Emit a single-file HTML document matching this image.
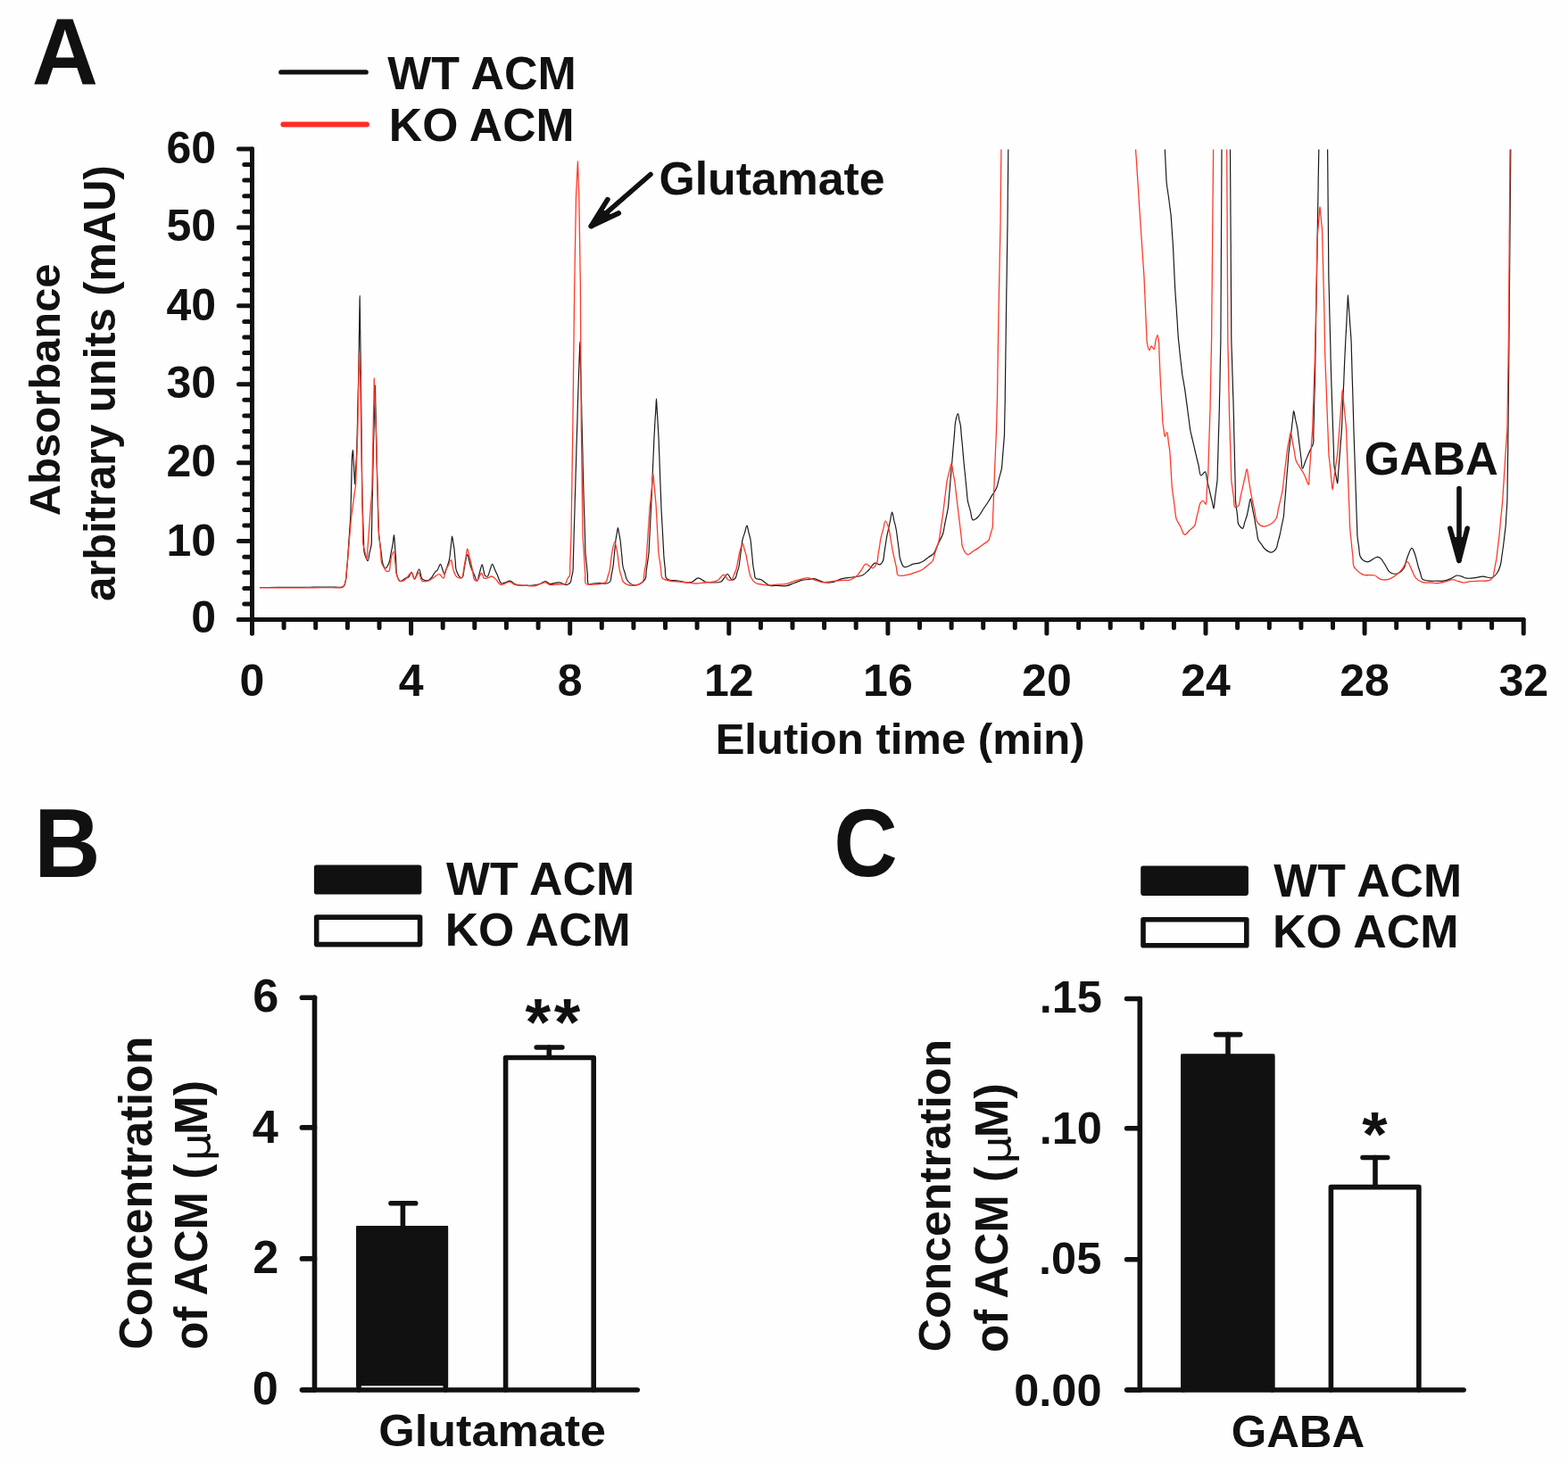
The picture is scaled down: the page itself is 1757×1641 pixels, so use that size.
<!DOCTYPE html>
<html><head><meta charset="utf-8"><title>Figure</title>
<style>
html,body{margin:0;padding:0;background:#fefefe;}
svg{display:block;}
text{font-family:'Liberation Sans', Arial, sans-serif;font-weight:bold;fill:#111;}
</style></head>
<body>
<svg width="1757" height="1641" viewBox="0 0 1757 1641">
<rect width="1757" height="1641" fill="#fefefe"/>
<line x1="314.9" y1="80.9" x2="410.1" y2="80.9" stroke="#111" stroke-width="5.4" stroke-linecap="round"/>
<line x1="317.4" y1="139.4" x2="410.9" y2="139.4" stroke="#ff2d23" stroke-width="6.0" stroke-linecap="round"/>
<clipPath id="cpA"><rect x="283" y="167.5" width="1430" height="540"/></clipPath>
<g clip-path="url(#cpA)" fill="none" stroke-linejoin="round">
<path d="M291.0,658.5 C291.0,658.5 297.5,658.5 300.8,658.5 C304.1,658.4 307.3,658.4 310.6,658.4 C313.9,658.4 317.1,658.4 320.4,658.4 C323.7,658.4 326.9,658.4 330.2,658.3 C333.5,658.3 336.7,658.3 340.0,658.3 C343.5,658.3 347.2,658.2 350.8,658.2 C354.3,658.2 357.9,658.2 361.5,658.1 C365.1,658.1 368.7,658.1 372.2,658.1 C375.8,658.1 380.7,658.6 383.0,658.0 C384.2,657.7 384.8,657.4 385.5,656.5 C386.5,655.2 387.0,652.4 387.5,650.0 C388.1,647.1 388.1,643.6 388.4,640.4 C388.7,637.2 389.0,634.1 389.3,630.8 C389.6,627.4 389.8,623.9 390.0,620.4 C390.2,617.0 390.5,613.5 390.7,610.1 C390.9,606.6 391.2,603.2 391.4,599.7 C391.6,596.3 391.9,592.8 392.1,589.4 C392.3,585.9 392.6,582.5 392.8,579.0 C393.0,575.4 393.0,571.6 393.1,568.0 C393.2,564.3 393.3,560.6 393.4,556.9 C393.5,553.2 393.6,549.5 393.6,545.9 C393.7,542.2 393.8,538.5 393.9,534.8 C394.0,531.1 394.1,527.4 394.2,523.8 C394.3,520.1 394.3,516.1 394.5,512.7 C394.7,509.7 395.2,504.4 395.5,504.4 C395.8,504.4 395.9,510.8 396.0,514.0 C396.2,517.2 396.4,520.4 396.6,523.6 C396.7,526.8 396.9,530.0 397.1,533.2 C397.3,536.4 397.4,542.8 397.6,542.8 C397.8,542.8 398.0,536.8 398.1,533.7 C398.3,530.7 398.5,527.7 398.6,524.6 C398.8,521.6 399.0,518.6 399.2,515.6 C399.4,512.6 399.6,509.7 399.7,506.5 C399.9,502.8 399.9,498.6 400.0,494.7 C400.1,490.7 400.2,486.8 400.3,482.8 C400.4,478.9 400.5,474.9 400.6,471.0 C400.7,467.0 400.7,463.1 400.8,459.1 C400.9,455.2 401.0,451.2 401.1,447.3 C401.2,443.3 401.3,439.4 401.4,435.4 C401.5,431.5 401.6,427.5 401.7,423.6 C401.8,419.7 401.8,415.9 401.9,412.1 C402.0,408.2 402.0,404.4 402.1,400.6 C402.1,396.7 402.2,392.9 402.3,389.0 C402.3,385.2 402.4,381.3 402.4,377.5 C402.5,373.7 402.6,369.8 402.6,366.0 C402.7,362.1 402.8,358.3 402.8,354.4 C402.9,350.6 402.9,346.8 403.0,342.9 C403.1,339.1 403.1,331.4 403.2,331.4 C403.3,331.4 403.3,339.1 403.3,342.9 C403.4,346.8 403.5,350.6 403.5,354.4 C403.6,358.3 403.6,362.1 403.6,366.0 C403.7,369.8 403.7,373.7 403.8,377.5 C403.8,381.3 403.9,385.2 403.9,389.0 C404.0,392.9 404.1,396.7 404.1,400.6 C404.2,404.4 404.2,408.2 404.2,412.1 C404.3,415.9 404.4,419.8 404.4,423.6 C404.4,427.4 404.5,431.1 404.5,434.8 C404.6,438.6 404.6,442.3 404.6,446.1 C404.7,449.8 404.7,453.5 404.8,457.3 C404.8,461.0 404.9,464.8 404.9,468.5 C404.9,472.2 405.0,476.0 405.0,479.7 C405.1,483.5 405.1,487.2 405.1,490.9 C405.2,494.7 405.2,498.4 405.3,502.2 C405.3,505.9 405.4,509.7 405.4,513.4 C405.4,517.1 405.5,520.9 405.5,524.6 C405.6,528.4 405.6,532.1 405.6,535.8 C405.7,539.6 405.7,543.3 405.8,547.1 C405.8,550.8 405.8,554.7 405.9,558.3 C406.0,561.7 406.1,565.0 406.2,568.3 C406.4,571.7 406.5,575.0 406.6,578.3 C406.7,581.7 406.8,585.0 406.9,588.3 C407.1,591.7 407.2,595.0 407.3,598.4 C407.4,601.7 407.5,605.0 407.6,608.4 C407.8,611.7 407.3,615.1 408.0,618.4 C408.7,621.9 411.1,628.8 412.1,628.7 C413.1,628.6 413.5,622.5 414.1,619.4 C414.8,616.3 415.8,613.4 416.2,610.1 C416.6,606.5 416.4,602.4 416.4,598.6 C416.5,594.8 416.6,590.9 416.7,587.1 C416.7,583.2 416.8,579.4 416.9,575.6 C417.0,571.7 417.1,567.9 417.1,564.1 C417.2,560.2 417.3,556.4 417.4,552.5 C417.4,548.7 417.5,544.9 417.6,541.0 C417.7,537.2 417.8,533.4 417.8,529.5 C417.9,525.7 418.0,521.8 418.1,518.0 C418.1,514.2 418.2,510.3 418.3,506.5 C418.4,502.9 418.5,499.4 418.6,495.8 C418.7,492.3 418.8,488.7 418.9,485.2 C419.0,481.6 419.1,478.1 419.2,474.5 C419.3,471.0 419.4,467.4 419.5,463.9 C419.6,460.3 419.7,456.8 419.8,453.2 C419.9,449.7 420.0,446.1 420.1,442.6 C420.2,439.0 420.3,431.9 420.4,431.9 C420.5,431.9 420.6,439.8 420.7,443.8 C420.7,447.8 420.8,451.8 420.9,455.7 C421.0,459.7 421.1,463.7 421.2,467.6 C421.3,471.6 421.4,475.6 421.4,479.6 C421.5,483.5 421.6,487.5 421.7,491.5 C421.8,495.4 421.9,499.4 422.0,503.4 C422.1,507.3 422.1,511.3 422.2,515.3 C422.3,519.3 422.4,523.4 422.5,527.2 C422.6,530.8 422.7,534.1 422.8,537.6 C422.9,541.0 423.0,544.5 423.1,547.9 C423.2,551.4 423.3,554.8 423.4,558.3 C423.5,561.7 423.5,565.2 423.6,568.6 C423.7,572.1 423.8,575.5 423.9,579.0 C424.0,582.4 424.1,585.9 424.2,589.3 C424.3,592.8 424.2,596.3 424.5,599.7 C424.8,603.2 425.4,606.6 425.9,610.1 C426.4,613.5 426.8,617.0 427.3,620.4 C427.8,623.9 427.8,627.8 428.7,630.8 C429.4,633.2 430.6,636.9 431.8,637.0 C433.0,637.1 434.9,633.2 435.9,630.8 C437.1,627.9 437.3,623.9 438.0,620.5 C438.7,617.0 439.5,613.6 440.1,610.1 C440.7,606.6 441.1,599.7 441.5,599.7 C441.9,599.7 442.1,606.6 442.4,610.1 C442.6,613.6 442.9,616.9 443.2,620.5 C443.5,624.3 443.7,628.4 443.9,632.4 C444.1,636.3 443.7,640.8 444.6,644.2 C445.4,647.1 446.8,651.1 448.5,651.6 C450.1,652.0 452.4,649.1 454.2,648.2 C455.6,647.5 457.1,647.5 458.2,646.5 C459.5,645.4 460.1,641.4 461.1,641.4 C462.2,641.4 463.2,648.8 464.5,648.8 C466.0,648.8 468.2,637.9 469.6,638.0 C471.0,638.1 471.3,646.9 473.0,648.8 C474.0,649.9 475.2,650.2 476.4,650.5 C477.5,650.8 478.7,650.9 479.8,650.5 C481.2,650.0 482.6,648.5 483.8,647.1 C485.3,645.4 486.5,642.2 487.8,640.8 C488.6,640.0 489.4,640.0 490.1,639.1 C491.3,637.7 492.5,632.3 493.5,632.3 C494.4,632.3 495.0,636.1 495.8,638.0 C496.5,639.9 497.3,643.7 498.0,643.7 C498.8,643.7 499.5,639.8 500.3,637.4 C501.4,634.2 503.0,629.5 503.7,626.0 C504.3,623.0 504.3,620.4 504.7,617.7 C505.0,614.9 505.3,612.1 505.6,609.3 C506.0,606.6 506.2,601.0 506.6,601.0 C506.9,601.0 507.4,605.5 507.8,607.8 C508.1,610.1 508.6,612.2 508.9,614.6 C509.2,617.1 509.4,619.9 509.6,622.6 C509.9,625.2 510.1,627.9 510.4,630.5 C510.6,633.2 510.3,635.8 511.1,638.5 C512.1,641.5 514.7,647.1 516.3,647.6 C517.1,647.8 517.9,647.3 518.5,646.5 C519.5,645.1 519.5,641.2 520.0,638.5 C520.4,635.9 520.8,633.3 521.4,630.6 C522.0,627.7 522.9,621.5 523.7,621.5 C524.4,621.5 525.2,626.8 526.0,629.5 C526.7,632.1 527.3,634.9 528.2,637.4 C529.1,639.8 530.3,642.0 531.4,644.2 C532.4,646.5 533.5,651.2 534.5,651.1 C535.6,651.0 536.4,645.0 537.4,642.0 C538.3,639.0 539.4,632.9 540.2,632.9 C540.9,632.9 541.3,637.1 541.9,639.1 C542.5,641.2 542.5,644.4 543.6,645.4 C544.3,646.1 545.6,646.4 546.4,646.0 C547.7,645.3 548.1,641.4 549.0,639.1 C549.9,636.9 550.7,632.3 551.6,632.3 C552.5,632.3 553.5,636.3 554.4,638.2 C555.3,640.2 556.1,642.0 557.2,644.2 C558.5,647.0 559.8,652.9 561.8,653.9 C563.1,654.5 564.8,653.2 566.4,652.8 C568.1,652.3 569.9,650.9 571.5,651.1 C573.3,651.3 574.7,653.7 576.6,654.5 C578.6,655.4 581.1,655.9 583.4,656.2 C585.7,656.5 588.0,656.2 590.2,656.2 C592.5,656.2 594.7,656.5 597.1,656.2 C599.7,655.9 602.6,655.3 605.0,654.5 C607.3,653.7 609.3,651.5 611.3,651.6 C613.1,651.7 614.3,654.1 616.4,654.5 C619.2,655.0 623.5,652.5 626.7,652.8 C629.6,653.0 632.5,655.8 634.7,655.6 C636.5,655.4 638.2,654.2 639.2,652.8 C640.3,651.2 640.1,648.5 640.6,646.4 C641.1,644.3 641.7,642.5 642.0,640.0 C642.4,636.7 642.2,632.3 642.3,628.4 C642.4,624.5 642.6,620.7 642.7,616.8 C642.8,612.9 642.9,609.1 643.0,605.2 C643.1,601.3 643.2,597.5 643.3,593.6 C643.4,589.7 643.6,585.9 643.7,582.0 C643.8,578.1 643.9,574.3 644.0,570.4 C644.1,566.5 644.2,562.7 644.3,558.8 C644.4,554.9 644.6,551.1 644.7,547.2 C644.8,543.3 644.9,539.5 645.0,535.6 C645.1,531.6 645.2,527.6 645.4,523.6 C645.5,519.7 645.6,515.7 645.7,511.7 C645.8,507.7 645.9,503.7 646.0,499.8 C646.2,495.8 646.3,491.8 646.4,487.8 C646.5,483.8 646.6,479.8 646.8,475.9 C646.9,471.9 647.0,467.9 647.1,463.9 C647.2,459.9 647.3,455.9 647.4,451.9 C647.6,448.0 647.7,443.9 647.8,440.0 C647.9,436.2 648.1,432.4 648.2,428.7 C648.3,424.9 648.5,421.1 648.6,417.3 C648.7,413.5 648.9,409.8 649.0,406.0 C649.1,402.2 649.3,398.4 649.4,394.6 C649.5,390.9 649.7,383.3 649.8,383.3 C649.9,383.3 650.0,390.9 650.1,394.6 C650.2,398.4 650.3,402.2 650.4,406.0 C650.5,409.8 650.6,413.5 650.7,417.3 C650.8,421.1 650.9,424.9 651.0,428.7 C651.1,432.4 651.2,436.2 651.3,440.0 C651.4,443.9 651.5,448.0 651.6,451.9 C651.7,455.9 651.8,459.9 651.8,463.9 C651.9,467.9 652.0,471.9 652.1,475.9 C652.2,479.8 652.3,483.8 652.4,487.8 C652.5,491.8 652.6,495.8 652.7,499.8 C652.8,503.7 652.9,507.7 653.0,511.7 C653.0,515.7 653.1,519.7 653.2,523.6 C653.3,527.6 653.4,531.7 653.5,535.6 C653.6,539.2 653.7,542.6 653.8,546.1 C653.9,549.7 654.0,553.2 654.1,556.7 C654.2,560.2 654.3,563.7 654.4,567.2 C654.5,570.8 654.6,574.3 654.8,577.8 C654.9,581.3 655.0,584.8 655.1,588.4 C655.2,591.9 655.3,595.4 655.4,598.9 C655.5,602.4 655.6,605.9 655.7,609.5 C655.8,613.0 655.8,616.4 656.0,620.0 C656.2,623.8 656.8,627.8 657.2,631.7 C657.6,635.6 657.9,639.4 658.3,643.3 C658.7,647.2 657.8,653.7 659.5,655.0 C660.7,655.9 663.0,654.2 665.0,654.0 C667.2,653.8 669.6,653.7 672.0,653.7 C674.6,653.7 677.9,654.5 680.0,654.0 C681.5,653.6 682.7,653.2 683.6,652.0 C684.9,650.3 684.7,646.3 685.3,643.5 C685.9,640.7 686.6,638.0 687.0,635.0 C687.5,631.8 687.7,628.3 688.0,625.0 C688.3,621.7 688.7,618.3 689.0,615.0 C689.3,611.7 689.6,608.0 690.0,605.0 C690.3,602.5 690.8,600.5 691.2,598.2 C691.6,596.0 692.0,591.5 692.4,591.5 C692.8,591.5 693.3,596.0 693.7,598.2 C694.1,600.5 694.6,602.5 695.0,605.0 C695.4,608.0 695.7,611.7 696.0,615.0 C696.3,618.3 696.7,621.7 697.0,625.0 C697.3,628.3 697.4,631.9 698.0,635.0 C698.5,637.7 699.5,640.0 700.3,642.5 C701.1,645.0 701.1,647.8 702.6,650.0 C704.2,652.4 707.5,655.2 710.0,655.9 C712.0,656.4 714.0,655.9 716.0,655.0 C718.4,653.9 721.6,651.6 723.0,649.0 C724.4,646.4 723.9,642.6 724.3,639.3 C724.8,636.1 725.2,632.9 725.7,629.7 C726.1,626.4 726.7,623.3 727.0,620.0 C727.3,616.7 727.3,613.3 727.5,610.0 C727.7,606.7 727.8,603.3 728.0,600.0 C728.2,596.7 728.3,593.3 728.5,590.0 C728.7,586.7 728.8,583.3 729.0,580.0 C729.2,576.7 729.3,573.3 729.5,570.0 C729.7,566.7 729.8,563.5 730.0,560.0 C730.2,556.3 730.3,552.2 730.5,548.3 C730.7,544.4 730.8,540.6 731.0,536.7 C731.2,532.8 731.3,528.9 731.5,525.0 C731.7,521.1 731.8,517.2 732.0,513.3 C732.2,509.4 732.3,505.6 732.5,501.7 C732.7,497.8 732.8,493.8 733.0,490.0 C733.2,486.3 733.4,482.8 733.6,479.2 C733.8,475.6 734.0,472.0 734.2,468.4 C734.5,464.8 734.7,461.2 734.9,457.6 C735.1,454.0 735.3,446.8 735.5,446.8 C735.7,446.8 735.9,454.0 736.1,457.6 C736.3,461.2 736.5,464.8 736.8,468.4 C737.0,472.0 737.2,475.6 737.4,479.2 C737.6,482.8 737.8,486.3 738.0,490.0 C738.2,493.8 738.3,497.6 738.4,501.4 C738.6,505.2 738.7,509.0 738.9,512.9 C739.0,516.7 739.1,520.5 739.3,524.3 C739.4,528.1 739.6,531.9 739.7,535.7 C739.9,539.5 740.0,543.3 740.1,547.1 C740.3,551.0 740.4,554.8 740.6,558.6 C740.7,562.4 740.8,566.2 741.0,570.0 C741.2,573.7 741.4,577.3 741.6,581.0 C741.8,584.7 742.0,588.3 742.2,592.0 C742.4,595.7 742.6,599.3 742.8,603.0 C743.0,606.7 743.2,610.3 743.4,614.0 C743.6,617.7 743.7,621.3 744.0,625.0 C744.3,628.8 744.8,632.7 745.2,636.5 C745.7,640.3 745.1,645.9 746.5,648.0 C747.3,649.3 748.5,649.5 750.0,650.0 C752.4,650.8 756.7,650.5 760.0,651.0 C763.3,651.5 767.1,653.0 770.0,653.0 C772.3,653.0 774.1,652.8 776.0,652.0 C778.2,651.1 780.1,647.9 782.3,647.8 C784.7,647.7 787.2,651.1 790.0,652.0 C793.0,652.9 796.9,653.0 800.0,653.0 C802.8,653.0 805.6,653.3 808.0,652.0 C810.8,650.5 813.1,643.4 815.2,643.5 C817.0,643.6 818.3,649.6 820.0,650.0 C821.3,650.3 823.0,649.2 824.0,648.0 C825.2,646.6 825.3,643.7 826.0,641.5 C826.7,639.3 827.5,637.4 828.0,635.0 C828.6,632.0 828.9,628.3 829.3,625.0 C829.8,621.7 830.2,618.3 830.7,615.0 C831.1,611.7 831.3,608.1 832.0,605.0 C832.6,602.2 833.7,599.7 834.5,597.1 C835.3,594.5 836.2,589.2 837.0,589.2 C837.7,589.2 838.3,594.5 839.0,597.1 C839.7,599.7 840.5,602.2 841.0,605.0 C841.5,608.1 841.7,611.7 842.0,615.0 C842.3,618.3 842.7,621.7 843.0,625.0 C843.3,628.3 843.6,632.0 844.0,635.0 C844.4,637.4 844.8,639.4 845.2,641.5 C845.7,643.7 845.2,646.7 846.5,648.1 C847.8,649.5 850.6,648.8 852.8,649.8 C855.7,651.1 858.7,655.0 861.9,656.1 C864.9,657.1 868.3,656.3 871.5,656.4 C874.8,656.5 878.1,657.2 881.2,656.7 C884.2,656.2 886.9,654.6 889.8,653.5 C892.6,652.5 895.6,651.1 898.3,650.4 C900.7,649.8 902.9,649.8 905.1,649.5 C907.4,649.3 909.5,648.4 912.0,648.7 C915.3,649.1 919.7,652.1 923.3,652.7 C926.4,653.2 929.8,653.2 932.4,652.7 C934.6,652.3 936.2,651.4 938.1,650.7 C940.0,650.0 941.5,649.3 943.8,648.7 C946.9,647.9 951.4,647.7 955.2,647.0 C959.0,646.3 963.4,646.2 966.6,644.7 C969.4,643.4 971.2,641.2 973.4,639.0 C975.8,636.7 977.9,631.8 980.3,631.1 C982.1,630.6 984.5,633.3 986.0,632.8 C987.4,632.4 988.6,630.6 989.4,628.8 C990.5,626.4 990.4,622.5 990.9,619.3 C991.4,616.1 991.9,613.0 992.4,609.8 C992.9,606.6 993.3,603.4 993.9,600.3 C994.5,597.3 995.2,594.5 995.8,591.6 C996.4,588.7 997.1,585.7 997.7,582.8 C998.3,579.9 998.9,574.1 999.6,574.1 C1000.3,574.1 1001.1,580.6 1001.9,583.8 C1002.7,587.0 1003.6,590.1 1004.2,593.5 C1004.9,597.0 1005.2,600.8 1005.7,604.5 C1006.2,608.2 1006.7,611.8 1007.2,615.5 C1007.7,619.2 1007.6,623.1 1008.7,626.5 C1009.7,629.8 1010.9,634.6 1013.3,635.6 C1015.8,636.6 1020.5,633.0 1023.5,632.2 C1025.9,631.6 1028.1,631.7 1030.0,631.1 C1031.7,630.6 1033.0,629.9 1034.6,629.0 C1036.5,627.9 1038.5,626.1 1040.4,624.6 C1042.4,623.2 1044.8,622.2 1046.3,620.3 C1047.9,618.3 1048.6,615.4 1049.7,613.0 C1050.9,610.5 1052.0,608.1 1053.2,605.6 C1054.3,603.2 1055.7,601.0 1056.6,598.3 C1057.6,595.3 1057.9,591.8 1058.5,588.5 C1059.2,585.3 1059.8,582.0 1060.5,578.8 C1061.1,575.5 1061.9,572.3 1062.4,569.0 C1062.9,565.6 1063.0,562.2 1063.3,558.8 C1063.6,555.3 1063.9,551.9 1064.2,548.5 C1064.5,545.1 1064.7,541.7 1065.0,538.3 C1065.3,534.9 1065.6,531.5 1065.9,528.0 C1066.2,524.6 1066.5,521.3 1066.8,517.8 C1067.1,514.2 1067.4,510.5 1067.7,506.8 C1068.0,503.2 1068.3,499.5 1068.7,495.8 C1069.0,492.2 1069.3,488.5 1069.6,484.9 C1069.9,481.2 1069.9,477.5 1070.5,473.9 C1071.1,470.4 1072.6,463.7 1073.4,463.7 C1074.0,463.7 1074.4,468.1 1074.8,470.2 C1075.3,472.4 1075.9,474.4 1076.3,476.8 C1076.8,479.8 1076.9,483.6 1077.2,487.1 C1077.5,490.5 1077.8,493.9 1078.2,497.3 C1078.5,500.7 1078.8,504.1 1079.1,507.5 C1079.4,511.0 1079.7,514.3 1080.0,517.8 C1080.3,521.4 1080.7,525.1 1081.1,528.8 C1081.5,532.4 1081.8,536.1 1082.2,539.8 C1082.6,543.4 1082.9,547.1 1083.3,550.7 C1083.7,554.4 1083.7,558.1 1084.4,561.7 C1085.1,565.3 1086.3,568.8 1087.3,572.3 C1088.3,575.8 1088.4,582.2 1090.2,582.9 C1091.6,583.5 1094.3,581.0 1096.1,579.3 C1098.3,577.2 1100.0,573.4 1101.9,570.5 C1103.9,567.6 1106.0,564.5 1107.8,561.7 C1109.4,559.2 1110.7,556.8 1112.2,554.4 C1113.7,552.0 1115.4,549.9 1116.6,547.1 C1118.0,543.9 1118.5,539.8 1119.5,536.1 C1120.5,532.4 1121.8,528.6 1122.4,525.1 C1122.9,521.9 1122.9,519.0 1123.2,516.0 C1123.4,512.9 1123.7,509.9 1123.9,506.8 C1124.2,503.8 1124.4,500.7 1124.7,497.6 C1124.9,494.6 1125.2,491.6 1125.4,488.5 C1125.6,485.3 1125.5,482.1 1125.6,478.9 C1125.7,475.7 1125.7,472.5 1125.8,469.2 C1125.9,466.0 1125.9,462.8 1126.0,459.6 C1126.1,456.4 1126.1,453.3 1126.2,450.0 C1126.3,446.4 1126.3,442.6 1126.3,438.9 C1126.4,435.2 1126.4,431.5 1126.5,427.8 C1126.5,424.1 1126.6,420.4 1126.6,416.7 C1126.7,413.0 1126.7,409.3 1126.8,405.6 C1126.8,401.9 1126.9,398.1 1126.9,394.4 C1127.0,390.7 1127.0,387.0 1127.1,383.3 C1127.1,379.6 1127.2,375.9 1127.2,372.2 C1127.3,368.5 1127.3,364.8 1127.4,361.1 C1127.4,357.4 1127.4,353.7 1127.5,350.0 C1127.6,346.3 1127.6,342.6 1127.7,338.9 C1127.7,335.2 1127.8,331.5 1127.8,327.8 C1127.9,324.1 1127.9,320.4 1128.0,316.7 C1128.1,313.0 1128.1,309.3 1128.2,305.6 C1128.2,301.9 1128.3,298.1 1128.3,294.4 C1128.4,290.7 1128.4,287.0 1128.5,283.3 C1128.6,279.6 1128.6,275.9 1128.7,272.2 C1128.7,268.5 1128.8,264.8 1128.8,261.1 C1128.9,257.4 1129.0,253.8 1129.0,250.0 C1129.0,246.1 1129.1,242.1 1129.1,238.2 C1129.2,234.3 1129.2,230.4 1129.2,226.4 C1129.3,222.5 1129.3,218.6 1129.3,214.6 C1129.4,210.7 1129.4,206.8 1129.5,202.9 C1129.5,198.9 1129.5,195.0 1129.6,191.1 C1129.6,187.1 1129.6,183.2 1129.7,179.3 C1129.7,175.4 1129.7,171.4 1129.8,167.5 C1129.9,163.7 1129.9,160.0 1130.0,156.2 C1130.1,152.5 1130.1,148.8 1130.2,145.0 C1130.3,141.2 1130.3,137.5 1130.4,133.8 C1130.5,130.0 1130.5,126.2 1130.6,122.5 C1130.7,118.7 1130.7,115.0 1130.8,111.2 C1130.9,107.5 1129.1,101.9 1131.0,100.0 C1132.9,98.1 1138.7,100.0 1142.6,100.0 C1146.4,100.0 1150.3,100.0 1154.1,100.0 C1158.0,100.0 1161.8,100.0 1165.7,100.0 C1169.6,100.0 1173.4,100.0 1177.3,100.0 C1181.1,100.0 1185.0,100.0 1188.8,100.0 C1192.7,100.0 1196.5,100.0 1200.4,100.0 C1204.3,100.0 1208.1,100.0 1212.0,100.0 C1215.8,100.0 1219.7,100.0 1223.5,100.0 C1227.4,100.0 1231.2,100.0 1235.1,100.0 C1239.0,100.0 1242.8,100.0 1246.7,100.0 C1250.5,100.0 1254.4,100.0 1258.2,100.0 C1262.1,100.0 1265.9,100.0 1269.8,100.0 C1273.7,100.0 1277.5,100.0 1281.4,100.0 C1285.2,100.0 1289.1,100.0 1292.9,100.0 C1296.8,100.0 1302.6,98.1 1304.5,100.0 C1306.4,101.9 1304.6,107.5 1304.6,111.2 C1304.7,115.0 1304.7,118.8 1304.8,122.5 C1304.8,126.3 1304.9,130.0 1304.9,133.8 C1304.9,137.5 1305.0,141.3 1305.0,145.0 C1305.1,148.8 1305.1,152.5 1305.2,156.2 C1305.2,160.0 1305.2,163.9 1305.3,167.5 C1305.4,170.8 1305.6,173.8 1305.8,176.9 C1305.9,180.0 1306.1,183.1 1306.2,186.2 C1306.4,189.4 1306.6,192.5 1306.7,195.6 C1306.9,198.7 1306.9,201.8 1307.2,205.0 C1307.5,208.3 1308.1,211.7 1308.6,215.0 C1309.1,218.3 1309.6,221.8 1310.0,225.0 C1310.4,227.9 1310.7,230.5 1311.0,233.2 C1311.4,235.9 1311.8,238.4 1312.1,241.4 C1312.4,244.8 1312.6,248.9 1312.9,252.6 C1313.1,256.3 1313.4,260.1 1313.6,263.8 C1313.9,267.5 1314.2,271.4 1314.4,275.0 C1314.6,278.4 1314.7,281.5 1314.9,284.7 C1315.0,288.0 1315.2,291.2 1315.3,294.5 C1315.5,297.7 1315.6,301.0 1315.8,304.2 C1315.9,307.5 1316.1,310.7 1316.2,314.0 C1316.4,317.2 1316.5,320.5 1316.7,323.7 C1316.9,326.9 1317.1,330.0 1317.3,333.1 C1317.5,336.3 1317.8,339.4 1318.0,342.6 C1318.2,345.7 1318.4,348.9 1318.6,352.0 C1318.8,355.0 1319.0,357.9 1319.2,360.8 C1319.4,363.8 1319.5,366.7 1319.7,369.7 C1319.9,372.6 1320.1,375.6 1320.3,378.5 C1320.5,381.3 1320.9,384.0 1321.2,386.8 C1321.4,389.5 1321.7,392.2 1322.0,395.0 C1322.3,397.8 1322.6,400.6 1322.9,403.3 C1323.2,406.1 1323.6,408.9 1323.9,411.7 C1324.2,414.4 1324.4,417.3 1324.8,420.0 C1325.2,422.6 1325.7,425.1 1326.2,427.7 C1326.6,430.3 1327.1,432.7 1327.5,435.4 C1328.0,438.4 1328.4,441.7 1328.8,444.9 C1329.2,448.1 1329.6,451.3 1330.1,454.4 C1330.5,457.6 1330.9,460.8 1331.3,464.0 C1331.8,467.1 1332.2,470.3 1332.6,473.5 C1333.0,476.7 1333.3,479.9 1333.9,483.0 C1334.5,486.0 1335.3,489.0 1336.0,492.0 C1336.7,495.0 1337.4,497.9 1338.1,500.9 C1338.8,503.9 1339.4,506.7 1340.2,509.9 C1341.1,513.5 1342.0,517.6 1343.0,521.4 C1343.9,525.2 1344.0,532.3 1345.7,532.9 C1346.9,533.3 1349.4,528.5 1350.5,528.9 C1351.8,529.4 1351.8,534.7 1352.5,537.6 C1353.2,540.5 1353.8,543.5 1354.5,546.3 C1355.1,549.0 1355.7,551.6 1356.3,554.2 C1356.9,556.9 1357.6,559.5 1358.2,562.2 C1358.8,564.8 1359.5,570.1 1360.0,570.1 C1360.6,570.1 1360.9,563.1 1361.3,559.5 C1361.8,556.0 1362.2,552.5 1362.7,549.0 C1363.1,545.4 1363.7,542.0 1364.0,538.4 C1364.3,534.7 1364.2,530.9 1364.3,527.1 C1364.4,523.3 1364.5,519.5 1364.7,515.8 C1364.8,512.0 1364.9,508.2 1365.0,504.5 C1365.1,500.7 1365.2,496.9 1365.3,493.1 C1365.4,489.4 1365.5,485.6 1365.6,481.8 C1365.8,478.1 1365.9,474.3 1366.0,470.5 C1366.1,466.7 1366.2,463.0 1366.3,459.2 C1366.4,455.4 1366.5,451.7 1366.5,447.9 C1366.6,444.1 1366.7,440.3 1366.8,436.6 C1366.8,432.8 1366.9,429.0 1367.0,425.3 C1367.1,421.5 1367.1,417.7 1367.2,413.9 C1367.3,410.2 1367.4,406.4 1367.4,402.6 C1367.5,398.9 1367.6,395.1 1367.7,391.3 C1367.7,387.5 1367.9,383.8 1367.9,380.0 C1367.9,376.1 1367.9,372.1 1368.0,368.2 C1368.0,364.3 1368.0,360.3 1368.0,356.4 C1368.0,352.5 1368.1,348.5 1368.1,344.6 C1368.1,340.6 1368.1,336.7 1368.1,332.8 C1368.2,328.8 1368.2,324.9 1368.2,321.0 C1368.2,317.0 1368.2,313.1 1368.3,309.2 C1368.3,305.2 1368.3,301.3 1368.3,297.4 C1368.3,293.4 1368.4,289.5 1368.4,285.6 C1368.4,281.6 1368.4,277.7 1368.5,273.8 C1368.5,269.8 1368.5,265.9 1368.5,261.9 C1368.5,258.0 1368.6,254.1 1368.6,250.1 C1368.6,246.2 1368.6,242.3 1368.6,238.3 C1368.7,234.4 1368.7,230.5 1368.7,226.5 C1368.7,222.6 1368.7,218.7 1368.8,214.7 C1368.8,210.8 1368.8,206.9 1368.8,202.9 C1368.8,199.0 1368.9,195.0 1368.9,191.1 C1368.9,187.2 1368.9,183.2 1368.9,179.3 C1369.0,175.4 1369.0,171.4 1369.0,167.5 C1369.0,163.7 1369.1,160.0 1369.2,156.2 C1369.2,152.5 1369.3,148.7 1369.3,145.0 C1369.4,141.2 1369.4,137.5 1369.5,133.8 C1369.6,130.0 1369.6,126.2 1369.7,122.5 C1369.7,118.7 1369.8,115.0 1369.8,111.2 C1369.9,107.5 1368.3,101.7 1370.0,100.0 C1371.5,98.6 1376.5,98.6 1378.0,100.0 C1379.7,101.7 1378.1,107.5 1378.1,111.2 C1378.1,115.0 1378.1,118.8 1378.2,122.5 C1378.2,126.2 1378.2,130.0 1378.2,133.8 C1378.3,137.5 1378.3,141.2 1378.3,145.0 C1378.4,148.8 1378.4,152.5 1378.4,156.2 C1378.4,160.0 1378.5,163.7 1378.5,167.5 C1378.5,171.4 1378.5,175.4 1378.6,179.3 C1378.6,183.2 1378.6,187.2 1378.6,191.1 C1378.7,195.0 1378.7,199.0 1378.7,202.9 C1378.7,206.9 1378.8,210.8 1378.8,214.7 C1378.8,218.7 1378.8,222.6 1378.9,226.5 C1378.9,230.5 1378.9,234.4 1378.9,238.3 C1379.0,242.3 1379.0,246.2 1379.0,250.1 C1379.0,254.1 1379.1,258.0 1379.1,261.9 C1379.1,265.9 1379.1,269.8 1379.2,273.8 C1379.2,277.7 1379.2,281.6 1379.2,285.6 C1379.2,289.5 1379.3,293.4 1379.3,297.4 C1379.3,301.3 1379.3,305.2 1379.4,309.2 C1379.4,313.1 1379.4,317.0 1379.4,321.0 C1379.5,324.9 1379.5,328.8 1379.5,332.8 C1379.5,336.7 1379.6,340.6 1379.6,344.6 C1379.6,348.5 1379.6,352.5 1379.7,356.4 C1379.7,360.3 1379.7,364.3 1379.7,368.2 C1379.8,372.1 1379.7,376.1 1379.8,380.0 C1379.9,383.8 1380.0,387.5 1380.1,391.3 C1380.3,395.1 1380.4,398.9 1380.5,402.6 C1380.6,406.4 1380.7,410.2 1380.8,413.9 C1380.9,417.7 1381.1,421.5 1381.2,425.3 C1381.3,429.0 1381.4,432.8 1381.5,436.6 C1381.6,440.3 1381.7,444.1 1381.9,447.9 C1382.0,451.7 1382.1,455.4 1382.2,459.2 C1382.3,463.0 1382.4,466.8 1382.5,470.6 C1382.6,474.5 1382.6,478.3 1382.7,482.1 C1382.8,485.9 1382.9,489.7 1383.0,493.5 C1383.1,497.3 1383.2,501.2 1383.3,505.0 C1383.4,508.8 1383.4,512.6 1383.5,516.4 C1383.6,520.2 1383.7,524.1 1383.8,527.9 C1383.9,531.7 1384.0,535.5 1384.1,539.3 C1384.2,543.1 1384.2,546.9 1384.3,550.8 C1384.4,554.6 1384.3,558.7 1384.6,562.2 C1384.8,565.2 1385.3,567.8 1385.6,570.6 C1386.0,573.4 1386.3,576.3 1386.7,579.1 C1387.0,581.9 1386.6,585.2 1387.7,587.5 C1388.7,589.5 1391.3,592.6 1392.5,592.3 C1393.7,592.0 1394.1,587.5 1394.8,585.1 C1395.6,582.8 1396.5,580.6 1397.2,578.0 C1398.0,575.1 1398.5,571.7 1399.2,568.5 C1399.9,565.3 1400.5,559.0 1401.2,559.0 C1401.9,559.0 1402.5,565.3 1403.2,568.5 C1403.8,571.7 1404.5,574.9 1405.1,578.0 C1405.7,581.0 1406.2,584.0 1406.7,587.0 C1407.2,590.0 1407.8,593.0 1408.3,596.0 C1408.8,599.0 1408.9,602.5 1409.9,605.0 C1410.7,607.0 1412.3,608.3 1413.5,610.0 C1414.6,611.7 1415.4,613.5 1417.0,615.0 C1418.9,616.7 1422.0,619.3 1424.2,619.2 C1426.3,619.1 1428.7,616.8 1430.0,614.9 C1431.3,612.9 1431.3,609.9 1432.0,607.5 C1432.7,605.0 1433.4,602.7 1434.0,600.0 C1434.8,596.8 1435.5,592.8 1436.2,589.2 C1436.9,585.7 1437.9,582.2 1438.4,578.5 C1438.9,574.7 1439.0,570.7 1439.3,566.8 C1439.6,562.9 1440.0,559.0 1440.3,555.1 C1440.6,551.2 1440.9,547.3 1441.2,543.5 C1441.5,539.6 1441.8,535.7 1442.1,531.8 C1442.4,527.9 1442.8,524.0 1443.1,520.1 C1443.4,516.2 1443.6,512.1 1444.0,508.4 C1444.3,505.1 1444.7,502.0 1445.1,498.9 C1445.5,495.7 1445.9,492.5 1446.2,489.3 C1446.6,486.1 1447.0,483.0 1447.4,479.8 C1447.7,476.6 1448.1,473.4 1448.5,470.2 C1448.9,467.1 1449.1,460.7 1449.6,460.7 C1450.1,460.7 1451.0,467.2 1451.7,470.5 C1452.4,473.8 1453.2,476.9 1453.8,480.3 C1454.4,483.9 1454.7,487.8 1455.2,491.5 C1455.7,495.3 1456.1,499.0 1456.6,502.8 C1457.1,506.5 1457.5,510.2 1458.0,514.0 C1458.5,517.7 1458.5,525.1 1459.4,525.2 C1460.2,525.3 1461.7,519.6 1462.9,516.8 C1464.1,514.0 1465.3,510.9 1466.4,508.4 C1467.3,506.3 1468.1,504.7 1469.0,502.8 C1469.8,500.9 1471.0,499.4 1471.5,497.2 C1472.2,494.3 1471.7,490.3 1471.8,486.8 C1471.9,483.3 1472.0,479.8 1472.1,476.4 C1472.2,472.9 1472.3,469.4 1472.4,466.0 C1472.5,462.5 1472.5,459.0 1472.6,455.5 C1472.7,452.1 1472.8,448.6 1472.9,445.1 C1473.0,441.7 1473.1,438.2 1473.2,434.7 C1473.3,431.2 1473.4,427.8 1473.5,424.3 C1473.6,420.6 1473.6,416.8 1473.7,413.1 C1473.8,409.3 1473.8,405.6 1473.9,401.9 C1473.9,398.1 1474.0,394.4 1474.1,390.6 C1474.1,386.9 1474.2,383.2 1474.3,379.4 C1474.3,375.7 1474.4,371.9 1474.5,368.2 C1474.5,364.5 1474.6,360.7 1474.6,357.0 C1474.7,353.2 1474.8,349.5 1474.8,345.8 C1474.9,342.0 1475.0,338.3 1475.0,334.5 C1475.1,330.8 1475.1,327.1 1475.2,323.3 C1475.3,319.6 1475.3,315.8 1475.4,312.1 C1475.5,308.4 1475.5,304.7 1475.6,301.0 C1475.6,297.3 1475.7,293.6 1475.8,289.9 C1475.8,286.1 1475.9,282.4 1476.0,278.7 C1476.0,275.0 1476.1,271.3 1476.1,267.6 C1476.2,263.9 1476.3,260.2 1476.3,256.5 C1476.4,252.8 1476.4,249.1 1476.5,245.4 C1476.6,241.7 1476.6,237.9 1476.7,234.2 C1476.8,230.5 1476.8,226.8 1476.9,223.1 C1476.9,219.4 1477.0,215.7 1477.1,212.0 C1477.1,208.3 1477.2,204.6 1477.2,200.9 C1477.3,197.2 1477.4,193.5 1477.4,189.7 C1477.5,186.0 1477.6,182.3 1477.6,178.6 C1477.7,174.9 1477.8,171.2 1477.8,167.5 C1477.8,163.8 1477.8,160.0 1477.8,156.2 C1477.8,152.5 1477.9,148.7 1477.9,145.0 C1477.9,141.2 1477.9,137.5 1477.9,133.8 C1477.9,130.0 1477.9,126.3 1477.9,122.5 C1477.9,118.8 1478.0,115.0 1478.0,111.2 C1478.0,107.5 1476.2,101.8 1478.0,100.0 C1479.7,98.3 1485.8,98.3 1487.5,100.0 C1489.3,101.8 1487.5,107.5 1487.5,111.2 C1487.5,115.0 1487.5,118.8 1487.5,122.5 C1487.5,126.2 1487.5,130.0 1487.5,133.8 C1487.6,137.5 1487.6,141.2 1487.6,145.0 C1487.6,148.8 1487.6,152.5 1487.6,156.2 C1487.6,160.0 1487.6,163.8 1487.6,167.5 C1487.6,171.2 1487.7,174.9 1487.7,178.6 C1487.7,182.3 1487.8,186.0 1487.8,189.7 C1487.8,193.5 1487.9,197.2 1487.9,200.9 C1487.9,204.6 1488.0,208.3 1488.0,212.0 C1488.0,215.7 1488.1,219.4 1488.1,223.1 C1488.1,226.8 1488.2,230.5 1488.2,234.2 C1488.2,237.9 1488.3,241.7 1488.3,245.4 C1488.3,249.1 1488.4,252.8 1488.4,256.5 C1488.4,260.2 1488.5,263.9 1488.5,267.6 C1488.5,271.3 1488.6,275.0 1488.6,278.7 C1488.6,282.4 1488.7,286.1 1488.7,289.9 C1488.7,293.6 1488.8,297.3 1488.8,301.0 C1488.8,304.7 1488.8,308.4 1488.9,312.1 C1489.0,315.8 1489.1,319.6 1489.2,323.3 C1489.3,327.1 1489.4,330.8 1489.5,334.5 C1489.6,338.3 1489.6,342.0 1489.7,345.8 C1489.8,349.5 1489.9,353.2 1490.0,357.0 C1490.1,360.7 1490.2,364.5 1490.3,368.2 C1490.4,371.9 1490.5,375.7 1490.6,379.4 C1490.7,383.2 1490.8,386.9 1490.9,390.6 C1491.0,394.4 1491.0,398.1 1491.1,401.9 C1491.2,405.6 1491.3,409.3 1491.4,413.1 C1491.5,416.8 1491.6,420.6 1491.7,424.3 C1491.8,428.0 1491.9,431.6 1492.1,435.2 C1492.2,438.8 1492.3,442.5 1492.4,446.1 C1492.6,449.7 1492.7,453.4 1492.8,457.0 C1492.9,460.6 1493.0,464.3 1493.2,467.9 C1493.3,471.5 1493.4,475.2 1493.5,478.8 C1493.7,482.4 1493.8,486.1 1493.9,489.7 C1494.0,493.3 1494.1,497.0 1494.3,500.6 C1494.4,504.2 1494.5,507.9 1494.6,511.5 C1494.8,515.1 1494.6,518.9 1495.0,522.4 C1495.4,525.8 1496.2,528.9 1496.8,532.2 C1497.5,535.5 1498.3,542.0 1498.7,542.0 C1499.1,542.0 1499.2,535.1 1499.5,531.7 C1499.8,528.3 1500.0,524.9 1500.3,521.4 C1500.6,518.0 1500.8,514.6 1501.1,511.1 C1501.4,507.7 1501.6,504.3 1501.9,500.9 C1502.2,497.4 1502.4,494.0 1502.7,490.6 C1503.0,487.2 1503.3,483.7 1503.5,480.3 C1503.7,476.8 1503.8,473.3 1504.0,469.8 C1504.1,466.3 1504.2,462.8 1504.4,459.3 C1504.5,455.8 1504.7,452.3 1504.8,448.8 C1505.0,445.3 1505.1,441.8 1505.3,438.2 C1505.4,434.7 1505.6,431.2 1505.8,427.7 C1505.9,424.2 1506.0,420.7 1506.2,417.2 C1506.3,413.7 1506.5,410.2 1506.6,406.7 C1506.8,403.2 1506.9,399.7 1507.1,396.2 C1507.3,392.6 1507.5,388.9 1507.6,385.2 C1507.8,381.6 1508.0,377.9 1508.2,374.3 C1508.4,370.6 1508.6,367.0 1508.8,363.4 C1508.9,359.7 1509.1,356.1 1509.3,352.4 C1509.5,348.8 1509.7,345.1 1509.9,341.4 C1510.0,337.8 1510.2,330.5 1510.4,330.5 C1510.6,330.5 1510.9,337.4 1511.1,340.8 C1511.4,344.3 1511.6,347.7 1511.9,351.2 C1512.1,354.6 1512.4,358.1 1512.6,361.5 C1512.9,365.0 1513.1,368.4 1513.4,371.9 C1513.6,375.3 1513.9,378.7 1514.1,382.2 C1514.3,385.8 1514.3,389.5 1514.4,393.1 C1514.5,396.7 1514.6,400.4 1514.7,404.0 C1514.8,407.6 1514.9,411.3 1515.0,414.9 C1515.1,418.5 1515.2,422.2 1515.3,425.8 C1515.4,429.4 1515.6,433.1 1515.7,436.7 C1515.8,440.3 1515.9,444.0 1516.0,447.6 C1516.1,451.2 1516.2,454.9 1516.3,458.5 C1516.4,462.1 1516.5,465.8 1516.6,469.4 C1516.7,473.0 1516.8,476.7 1516.9,480.3 C1517.0,483.8 1517.1,487.3 1517.2,490.8 C1517.4,494.3 1517.5,497.8 1517.6,501.4 C1517.7,504.9 1517.8,508.4 1518.0,511.9 C1518.1,515.4 1518.2,518.9 1518.3,522.4 C1518.4,525.9 1518.5,529.4 1518.7,532.9 C1518.8,536.4 1518.9,539.9 1519.0,543.5 C1519.1,547.0 1519.2,550.5 1519.4,554.0 C1519.5,557.5 1519.6,561.1 1519.7,564.5 C1519.8,567.7 1519.9,570.6 1520.0,573.6 C1520.1,576.7 1520.2,579.7 1520.3,582.8 C1520.5,585.8 1520.6,588.8 1520.7,591.9 C1520.8,594.9 1520.7,597.8 1521.0,601.0 C1521.3,604.6 1522.0,608.5 1522.5,612.2 C1523.1,616.0 1522.9,620.6 1524.1,623.5 C1525.0,625.7 1526.5,627.6 1528.2,628.6 C1529.7,629.5 1531.4,630.0 1533.3,629.7 C1536.0,629.3 1540.0,624.8 1542.5,624.5 C1544.1,624.3 1545.3,624.7 1546.6,625.6 C1548.5,626.9 1550.1,630.2 1551.8,632.7 C1553.6,635.3 1555.0,639.2 1556.9,640.9 C1558.2,642.1 1559.4,642.7 1561.0,643.0 C1562.8,643.4 1565.2,643.3 1567.1,642.5 C1569.3,641.5 1571.9,639.0 1573.3,636.8 C1574.6,634.8 1574.7,632.4 1575.3,630.1 C1576.0,627.9 1576.5,625.9 1577.4,623.5 C1578.5,620.6 1580.6,614.3 1582.0,614.3 C1583.3,614.3 1584.7,619.0 1585.6,621.5 C1586.5,624.0 1587.0,626.6 1587.7,629.1 C1588.3,631.7 1589.0,634.4 1589.7,636.8 C1590.4,639.0 1591.1,640.9 1591.8,643.0 C1592.4,645.0 1592.3,647.7 1593.8,649.1 C1595.5,650.7 1599.3,650.9 1602.0,651.2 C1604.6,651.5 1607.1,651.2 1609.7,651.2 C1612.2,651.2 1614.7,651.6 1617.3,651.2 C1620.0,650.8 1622.9,649.7 1625.5,648.6 C1628.0,647.6 1630.5,645.3 1632.7,645.0 C1634.5,644.8 1636.1,645.6 1637.8,646.1 C1639.5,646.6 1640.9,647.8 1643.0,648.1 C1645.8,648.5 1650.0,648.0 1653.2,647.6 C1656.1,647.3 1658.5,646.2 1661.4,646.1 C1664.6,646.0 1668.8,648.5 1671.6,647.6 C1674.1,646.8 1676.2,644.3 1677.8,642.0 C1679.5,639.5 1680.5,636.2 1681.4,633.0 C1682.3,629.7 1682.4,626.0 1683.0,622.5 C1683.5,619.0 1684.0,615.5 1684.5,612.0 C1685.0,608.4 1685.4,604.7 1685.8,601.0 C1686.2,597.3 1686.8,593.6 1687.1,590.0 C1687.4,586.7 1687.5,583.6 1687.7,580.3 C1687.9,577.1 1688.1,573.9 1688.3,570.7 C1688.5,567.4 1688.8,564.4 1688.9,561.0 C1689.0,557.3 1689.0,553.3 1689.1,549.4 C1689.1,545.6 1689.2,541.7 1689.2,537.9 C1689.3,534.0 1689.3,530.1 1689.4,526.3 C1689.4,522.4 1689.5,518.6 1689.5,514.7 C1689.6,510.9 1689.6,507.0 1689.7,503.1 C1689.7,499.3 1689.8,495.4 1689.8,491.6 C1689.9,487.7 1690.0,483.9 1690.0,480.0 C1690.0,476.1 1690.1,472.1 1690.1,468.1 C1690.1,464.1 1690.2,460.2 1690.2,456.2 C1690.3,452.3 1690.3,448.3 1690.3,444.3 C1690.4,440.4 1690.4,436.4 1690.4,432.4 C1690.5,428.5 1690.5,424.5 1690.6,420.6 C1690.6,416.6 1690.6,412.6 1690.7,408.7 C1690.7,404.7 1690.7,400.7 1690.8,396.8 C1690.8,392.8 1690.9,388.9 1690.9,384.9 C1690.9,380.9 1691.0,376.9 1691.0,373.0 C1691.0,369.2 1691.1,365.4 1691.1,361.6 C1691.1,357.8 1691.2,354.0 1691.2,350.2 C1691.2,346.4 1691.3,342.6 1691.3,338.8 C1691.3,334.9 1691.4,331.1 1691.4,327.3 C1691.4,323.5 1691.5,319.7 1691.5,315.9 C1691.5,312.1 1691.6,308.3 1691.6,304.5 C1691.6,300.7 1691.7,296.9 1691.7,293.1 C1691.7,289.3 1691.8,285.5 1691.8,281.7 C1691.8,277.9 1691.9,274.1 1691.9,270.2 C1691.9,266.4 1692.0,262.6 1692.0,258.8 C1692.0,255.0 1692.1,251.2 1692.1,247.4 C1692.1,243.6 1692.2,239.8 1692.2,236.0 C1692.2,232.2 1692.3,228.4 1692.3,224.6 C1692.3,220.8 1692.4,217.0 1692.4,213.2 C1692.4,209.4 1692.5,205.6 1692.5,201.8 C1692.5,197.9 1692.6,194.1 1692.6,190.3 C1692.6,186.5 1692.7,182.7 1692.7,178.9 C1692.7,175.1 1692.8,171.3 1692.8,167.5 C1692.8,163.7 1692.8,160.0 1692.8,156.2 C1692.8,152.5 1692.9,148.7 1692.9,145.0 C1692.9,141.2 1692.9,137.5 1692.9,133.8 C1692.9,130.0 1692.9,126.3 1692.9,122.5 C1692.9,118.8 1693.0,115.0 1693.0,111.2 C1693.0,107.5 1693.0,100.0 1693.0,100.0" stroke="#1a1a1a" stroke-width="1.2"/>
<path d="M291.0,658.8 C291.0,658.8 297.5,658.8 300.8,658.8 C304.1,658.8 307.3,658.8 310.6,658.8 C313.9,658.8 317.1,658.8 320.4,658.8 C323.7,658.8 326.9,658.8 330.2,658.8 C333.5,658.8 336.7,658.8 340.0,658.8 C343.5,658.8 347.2,658.8 350.8,658.8 C354.3,658.7 357.9,658.7 361.5,658.7 C365.1,658.7 368.7,658.7 372.2,658.6 C375.8,658.6 380.7,659.3 383.0,658.6 C384.2,658.2 384.8,657.9 385.5,657.0 C386.6,655.6 387.0,652.5 387.5,650.0 C388.0,647.1 388.1,643.6 388.4,640.4 C388.7,637.2 389.0,634.0 389.3,630.8 C389.6,627.5 389.9,624.2 390.1,620.9 C390.4,617.5 390.7,614.2 391.0,610.9 C391.3,607.6 391.5,604.3 391.8,601.0 C392.1,597.7 392.4,594.4 392.7,591.0 C392.9,587.7 393.1,584.4 393.5,581.1 C393.9,577.7 394.4,574.2 394.9,570.8 C395.3,567.3 395.8,563.7 396.2,560.4 C396.6,557.5 397.0,554.9 397.4,552.1 C397.8,549.3 398.3,546.8 398.6,543.8 C398.9,540.3 398.9,536.1 399.0,532.2 C399.2,528.3 399.3,524.5 399.4,520.6 C399.6,516.7 399.7,512.9 399.9,509.0 C400.0,505.1 400.1,501.3 400.3,497.4 C400.4,493.5 400.6,489.6 400.7,485.8 C400.8,482.0 400.8,478.3 400.9,474.5 C401.0,470.8 401.1,467.0 401.1,463.2 C401.2,459.5 401.3,455.7 401.3,452.0 C401.4,448.2 401.5,444.5 401.5,440.7 C401.6,436.9 401.7,433.2 401.8,429.4 C401.8,425.7 401.9,421.9 402.0,418.2 C402.0,414.4 402.1,410.6 402.2,406.9 C402.3,403.1 402.3,395.6 402.4,395.6 C402.5,395.6 402.7,401.8 402.9,404.9 C403.0,408.0 403.2,411.2 403.3,414.3 C403.5,417.4 403.7,420.3 403.8,423.6 C403.9,427.2 403.9,431.3 404.0,435.1 C404.0,438.9 404.1,442.8 404.1,446.6 C404.2,450.5 404.2,454.3 404.3,458.1 C404.4,462.0 404.4,465.8 404.5,469.6 C404.5,473.5 404.6,477.3 404.6,481.2 C404.7,485.0 404.7,488.8 404.8,492.7 C404.9,496.5 404.9,500.3 405.0,504.2 C405.0,508.0 405.1,511.9 405.1,515.7 C405.2,519.5 405.2,523.3 405.3,527.2 C405.4,531.1 405.5,535.1 405.5,539.0 C405.6,543.0 405.7,546.9 405.8,550.9 C405.8,554.8 405.9,558.8 406.0,562.7 C406.1,566.7 406.1,570.6 406.2,574.6 C406.3,578.5 406.4,582.5 406.4,586.4 C406.5,590.4 406.6,594.3 406.7,598.3 C406.7,602.2 406.4,606.5 406.9,610.1 C407.3,613.1 408.3,615.6 409.0,618.4 C409.7,621.2 410.6,626.7 411.1,626.7 C411.7,626.7 411.7,619.2 411.9,615.4 C412.2,611.7 412.5,607.9 412.8,604.2 C413.0,600.4 413.3,596.7 413.6,592.9 C413.9,589.2 414.1,585.4 414.4,581.7 C414.7,577.9 415.0,574.2 415.2,570.4 C415.5,566.7 415.8,562.9 416.1,559.2 C416.3,555.4 416.7,551.7 416.9,547.9 C417.1,544.1 417.0,540.4 417.1,536.6 C417.2,532.8 417.3,529.1 417.3,525.3 C417.4,521.5 417.5,517.8 417.6,514.0 C417.6,510.2 417.7,506.5 417.8,502.7 C417.8,498.9 417.9,495.2 418.0,491.4 C418.1,487.6 418.1,483.9 418.2,480.1 C418.3,476.3 418.4,472.6 418.4,468.8 C418.5,465.0 418.6,461.3 418.6,457.5 C418.7,453.7 418.8,450.0 418.9,446.2 C418.9,442.4 419.0,438.7 419.1,434.9 C419.2,431.1 419.2,423.6 419.3,423.6 C419.4,423.6 419.5,430.5 419.6,434.0 C419.8,437.4 419.9,440.9 420.0,444.3 C420.1,447.8 420.2,451.2 420.4,454.7 C420.5,458.2 420.6,461.6 420.7,465.1 C420.8,468.5 420.9,472.0 421.0,475.4 C421.2,478.9 421.3,482.3 421.4,485.8 C421.5,489.5 421.6,493.5 421.7,497.3 C421.8,501.1 421.9,505.0 422.0,508.8 C422.0,512.7 422.1,516.5 422.2,520.3 C422.3,524.2 422.4,528.0 422.5,531.8 C422.6,535.7 422.7,539.5 422.8,543.4 C422.9,547.2 423.0,551.0 423.1,554.9 C423.2,558.7 423.3,562.5 423.3,566.4 C423.4,570.2 423.5,574.1 423.6,577.9 C423.7,581.7 423.7,585.7 423.9,589.4 C424.1,592.9 424.5,596.3 424.8,599.8 C425.1,603.2 425.4,606.6 425.8,610.1 C426.1,613.6 426.4,617.0 426.7,620.4 C427.0,623.9 426.8,627.9 427.6,630.8 C428.3,633.2 429.7,635.3 430.7,637.0 C431.4,638.2 431.9,639.6 432.8,640.1 C433.6,640.5 435.1,640.7 435.9,640.1 C437.2,639.0 436.9,634.2 437.4,631.3 C438.0,628.4 438.1,624.8 439.0,622.5 C439.6,620.8 440.9,618.3 441.5,618.4 C442.3,618.6 442.1,623.9 442.4,626.7 C442.7,629.4 443.0,632.2 443.3,634.9 C443.6,637.7 443.4,640.5 444.2,643.2 C445.0,646.0 446.4,650.7 448.3,651.5 C449.8,652.1 451.9,651.0 453.7,649.9 C456.2,648.4 459.3,641.7 461.1,642.0 C462.7,642.3 463.2,649.3 464.5,649.4 C465.8,649.5 467.6,641.9 469.0,642.0 C470.5,642.1 470.9,649.7 473.0,651.1 C474.7,652.2 477.7,651.7 479.8,651.1 C481.9,650.5 483.5,648.8 485.5,647.6 C487.7,646.3 490.4,643.4 492.4,643.7 C494.2,643.9 495.8,648.5 496.9,648.2 C498.2,647.9 498.2,642.2 499.2,639.7 C500.1,637.5 501.3,635.7 502.4,633.7 C503.4,631.7 504.7,627.6 505.5,627.7 C506.2,627.8 506.4,631.7 506.9,633.7 C507.4,635.7 507.6,637.7 508.3,639.7 C509.1,641.9 510.0,645.2 511.7,646.5 C513.2,647.6 516.1,648.5 517.4,647.6 C519.2,646.4 519.0,640.9 519.7,637.4 C520.4,633.8 521.0,630.0 521.7,626.3 C522.4,622.6 523.0,615.2 523.7,615.2 C524.3,615.2 525.0,620.3 525.7,622.9 C526.4,625.5 527.1,627.9 527.7,630.6 C528.4,633.6 529.0,637.0 529.7,640.2 C530.3,643.5 530.3,648.3 531.6,649.9 C532.4,650.8 533.5,651.4 534.5,651.1 C536.2,650.5 538.2,642.4 539.6,642.5 C540.7,642.5 541.0,647.5 542.4,648.2 C543.6,648.8 545.5,648.0 547.0,647.6 C548.4,647.2 549.6,645.8 551.0,646.0 C552.7,646.2 554.5,648.4 556.1,649.9 C557.9,651.5 559.0,655.0 561.2,655.6 C563.8,656.3 568.0,652.0 570.9,652.2 C573.4,652.4 575.1,654.9 577.7,655.6 C580.8,656.4 584.9,656.0 588.5,656.2 C592.2,656.4 595.8,657.3 599.4,656.8 C603.2,656.3 607.6,652.6 610.7,652.8 C613.0,652.9 614.2,655.2 616.4,655.6 C618.9,656.1 622.1,655.2 625.0,655.0 C627.8,654.9 631.7,655.8 633.5,654.5 C635.0,653.4 634.9,650.4 635.8,648.8 C636.5,647.4 637.8,646.9 638.3,645.3 C639.2,642.7 638.6,637.7 638.7,634.0 C638.9,630.2 639.0,626.4 639.1,622.6 C639.3,618.9 639.4,615.1 639.6,611.3 C639.7,607.5 639.9,603.8 640.0,600.0 C640.1,596.2 640.1,592.4 640.2,588.6 C640.2,584.8 640.3,581.1 640.3,577.3 C640.4,573.5 640.5,569.7 640.5,565.9 C640.6,562.1 640.6,558.3 640.7,554.5 C640.7,550.8 640.8,547.0 640.9,543.2 C640.9,539.4 641.0,535.6 641.0,531.8 C641.1,528.0 641.2,524.2 641.2,520.5 C641.3,516.7 641.3,512.9 641.4,509.1 C641.4,505.3 641.5,501.5 641.6,497.7 C641.6,493.9 641.7,490.2 641.7,486.4 C641.8,482.6 641.8,478.8 641.9,475.0 C642.0,471.1 642.0,467.2 642.0,463.2 C642.1,459.3 642.1,455.4 642.2,451.5 C642.2,447.5 642.3,443.6 642.3,439.7 C642.4,435.8 642.4,431.8 642.5,427.9 C642.5,424.0 642.5,420.1 642.6,416.2 C642.6,412.2 642.7,408.3 642.7,404.4 C642.8,400.5 642.8,396.5 642.9,392.6 C642.9,388.7 643.0,384.8 643.0,380.8 C643.1,376.9 643.1,373.0 643.1,369.1 C643.2,365.2 643.2,361.2 643.3,357.3 C643.3,353.4 643.4,349.5 643.4,345.5 C643.5,341.6 643.5,337.7 643.6,333.8 C643.6,329.8 643.6,325.9 643.7,322.0 C643.8,318.2 643.8,314.4 643.9,310.7 C644.0,306.9 644.0,303.1 644.1,299.3 C644.2,295.6 644.2,291.8 644.3,288.0 C644.4,284.2 644.4,280.4 644.5,276.7 C644.6,272.9 644.6,269.1 644.7,265.3 C644.8,261.6 644.8,257.8 644.9,254.0 C645.0,250.2 645.0,246.4 645.1,242.7 C645.2,238.9 645.2,235.1 645.3,231.3 C645.4,227.6 645.4,223.6 645.5,220.0 C645.6,216.6 645.8,213.4 646.0,210.2 C646.1,206.9 646.3,203.6 646.5,200.3 C646.6,197.1 646.8,193.8 646.9,190.5 C647.1,187.2 647.3,180.7 647.4,180.7 C647.5,180.7 647.6,187.2 647.8,190.5 C647.9,193.8 648.0,197.1 648.1,200.3 C648.2,203.6 648.3,206.9 648.4,210.2 C648.6,213.5 648.7,216.6 648.8,220.0 C648.9,223.6 648.9,227.6 649.0,231.3 C649.0,235.1 649.1,238.9 649.2,242.7 C649.2,246.4 649.3,250.2 649.3,254.0 C649.4,257.8 649.5,261.6 649.5,265.3 C649.6,269.1 649.6,272.9 649.7,276.7 C649.7,280.4 649.8,284.2 649.9,288.0 C649.9,291.8 650.0,295.6 650.0,299.3 C650.1,303.1 650.2,306.9 650.2,310.7 C650.3,314.4 650.4,318.2 650.4,322.0 C650.4,325.9 650.4,329.8 650.5,333.8 C650.5,337.7 650.5,341.6 650.5,345.5 C650.6,349.5 650.6,353.4 650.6,357.3 C650.6,361.2 650.7,365.2 650.7,369.1 C650.7,373.0 650.7,376.9 650.7,380.8 C650.8,384.8 650.8,388.7 650.8,392.6 C650.8,396.5 650.9,400.5 650.9,404.4 C650.9,408.3 650.9,412.2 651.0,416.2 C651.0,420.1 651.0,424.0 651.0,427.9 C651.0,431.8 651.1,435.8 651.1,439.7 C651.1,443.6 651.1,447.5 651.2,451.5 C651.2,455.4 651.2,459.3 651.2,463.2 C651.3,467.2 651.3,471.1 651.3,475.0 C651.3,478.8 651.4,482.6 651.5,486.4 C651.5,490.2 651.6,493.9 651.6,497.7 C651.7,501.5 651.7,505.3 651.8,509.1 C651.8,512.9 651.9,516.7 651.9,520.5 C652.0,524.2 652.0,528.0 652.1,531.8 C652.1,535.6 652.2,539.4 652.2,543.2 C652.3,547.0 652.3,550.8 652.4,554.5 C652.4,558.3 652.5,562.1 652.5,565.9 C652.6,569.7 652.6,573.5 652.7,577.3 C652.7,581.1 652.8,584.8 652.8,588.6 C652.9,592.4 652.9,596.3 653.0,600.0 C653.1,603.7 653.5,607.3 653.7,610.9 C653.9,614.5 654.2,618.1 654.4,621.8 C654.6,625.4 654.9,629.0 655.1,632.6 C655.3,636.3 655.6,639.9 655.8,643.5 C656.0,647.1 654.7,652.6 656.5,654.4 C658.1,656.0 662.1,655.0 665.0,655.0 C668.2,655.0 672.4,654.7 675.0,654.0 C676.8,653.5 678.2,653.2 679.2,652.0 C680.4,650.7 680.5,648.0 681.1,646.0 C681.7,644.0 682.5,642.3 683.0,640.0 C683.7,636.9 684.0,632.7 684.5,629.0 C685.0,625.3 685.3,621.6 686.0,618.0 C686.7,614.5 687.8,607.6 688.7,607.6 C689.6,607.6 690.8,614.5 691.5,618.0 C692.2,621.6 692.5,625.3 693.0,629.0 C693.5,632.7 693.8,636.9 694.5,640.0 C695.0,642.3 695.7,644.0 696.4,646.0 C697.0,648.0 696.9,650.4 698.2,652.0 C699.6,653.8 702.6,655.4 705.0,656.0 C707.2,656.6 709.6,656.5 712.0,656.0 C714.7,655.4 718.5,654.3 720.2,652.0 C722.1,649.5 721.5,644.7 722.1,641.0 C722.7,637.3 723.6,633.6 724.0,630.0 C724.4,626.6 724.4,623.3 724.7,620.0 C724.9,616.7 725.1,613.3 725.3,610.0 C725.6,606.7 725.8,603.3 726.0,600.0 C726.2,596.7 726.4,593.3 726.7,590.0 C726.9,586.7 727.1,583.3 727.3,580.0 C727.6,576.7 727.7,573.3 728.0,570.0 C728.3,566.7 728.7,563.5 729.0,560.2 C729.3,557.0 729.6,553.7 730.0,550.5 C730.3,547.2 730.6,543.9 730.9,540.7 C731.2,537.4 731.6,530.9 731.9,530.9 C732.2,530.9 732.6,538.5 732.9,542.3 C733.3,546.1 733.6,549.8 734.0,553.6 C734.3,557.4 734.7,561.2 735.0,565.0 C735.3,568.7 735.4,572.3 735.6,576.0 C735.8,579.7 736.0,583.3 736.2,587.0 C736.4,590.7 736.6,594.3 736.8,598.0 C737.0,601.7 737.2,605.3 737.4,609.0 C737.6,612.7 737.6,616.5 738.0,620.0 C738.3,623.2 738.9,626.2 739.4,629.3 C739.8,632.4 740.3,635.6 740.7,638.7 C741.2,641.8 740.4,645.9 742.1,648.0 C743.7,649.9 747.2,650.3 750.0,651.0 C753.1,651.7 756.7,651.7 760.0,652.0 C763.3,652.3 766.7,652.7 770.0,653.0 C773.3,653.3 776.7,654.0 780.0,654.0 C783.3,654.0 786.7,653.3 790.0,653.0 C793.3,652.7 797.3,652.7 800.0,652.0 C802.0,651.5 803.4,651.1 805.0,650.0 C807.0,648.7 808.9,644.1 810.8,644.2 C812.6,644.2 814.2,649.2 816.0,650.0 C817.3,650.6 819.0,650.7 820.0,650.0 C821.3,649.1 821.7,646.0 822.5,644.0 C823.3,642.0 824.3,640.3 825.0,638.0 C825.9,635.1 826.3,631.3 827.0,628.0 C827.7,624.7 828.1,621.2 829.0,618.0 C829.9,615.0 831.3,609.5 832.2,609.5 C833.0,609.5 833.5,613.7 834.1,615.8 C834.7,617.8 835.5,619.8 836.0,622.0 C836.6,624.5 837.0,627.3 837.5,630.0 C838.0,632.7 838.4,635.3 839.0,638.0 C839.7,640.9 840.0,644.3 841.4,647.0 C842.7,649.6 844.9,652.5 847.1,653.8 C849.0,654.9 851.3,654.6 853.4,655.0 C855.4,655.3 857.2,656.0 859.6,656.1 C862.7,656.3 866.8,655.5 870.4,655.2 C874.0,655.0 878.2,655.0 881.2,654.4 C883.4,653.9 885.0,653.1 886.9,652.4 C888.8,651.7 890.6,651.0 892.6,650.4 C894.6,649.8 896.8,649.5 898.9,649.0 C900.9,648.5 902.9,647.5 905.1,647.6 C907.6,647.7 910.4,649.3 913.1,650.2 C915.8,651.0 918.4,652.4 921.1,652.7 C923.9,653.0 926.8,652.1 929.6,651.9 C932.4,651.6 935.4,651.2 938.1,651.0 C940.7,650.8 943.0,650.6 945.5,650.4 C948.0,650.2 950.5,650.6 952.9,649.8 C955.6,648.9 958.8,646.7 960.9,644.7 C962.8,642.9 963.9,640.5 965.5,638.5 C967.0,636.4 968.0,632.6 970.0,632.2 C972.1,631.7 975.9,637.2 978.0,636.8 C979.9,636.4 981.5,633.4 982.5,631.1 C983.7,628.5 983.5,624.8 984.0,621.6 C984.5,618.4 985.1,615.3 985.6,612.1 C986.1,608.9 986.4,605.7 987.1,602.6 C987.8,599.4 988.8,596.3 989.7,593.2 C990.5,590.1 991.1,583.9 992.2,583.8 C993.3,583.7 995.3,590.3 996.2,593.5 C997.0,596.4 997.2,599.3 997.7,602.2 C998.2,605.1 998.7,608.1 999.2,611.0 C999.7,613.9 1000.1,616.8 1000.7,619.7 C1001.3,622.5 1002.0,625.3 1002.6,628.0 C1003.2,630.8 1003.9,633.6 1004.5,636.4 C1005.1,639.1 1004.5,643.3 1006.4,644.7 C1008.6,646.3 1014.6,644.8 1017.8,644.2 C1020.2,643.8 1021.9,642.9 1023.9,642.2 C1025.9,641.5 1028.1,641.0 1030.0,640.2 C1031.7,639.5 1033.1,638.8 1034.6,637.8 C1036.3,636.6 1038.0,634.9 1039.8,633.4 C1041.5,631.9 1043.6,630.9 1044.9,629.0 C1046.3,626.9 1046.5,623.8 1047.3,621.2 C1048.1,618.6 1049.0,616.0 1049.8,613.4 C1050.6,610.8 1051.6,608.4 1052.2,605.6 C1052.9,602.6 1053.2,599.1 1053.7,595.8 C1054.2,592.6 1054.6,589.3 1055.1,586.1 C1055.6,582.8 1056.2,579.5 1056.6,576.3 C1057.0,573.2 1057.3,570.2 1057.7,567.2 C1058.1,564.1 1058.4,561.1 1058.8,558.0 C1059.2,555.0 1059.5,552.0 1059.9,548.9 C1060.3,545.9 1060.4,542.9 1061.0,539.8 C1061.6,536.5 1062.7,533.0 1063.5,529.5 C1064.4,526.1 1065.4,519.3 1066.1,519.3 C1066.8,519.3 1067.3,526.1 1067.9,529.5 C1068.6,533.0 1069.3,536.5 1069.8,539.8 C1070.3,542.9 1070.5,545.9 1070.9,548.9 C1071.2,552.0 1071.6,555.0 1071.9,558.0 C1072.3,561.1 1072.7,564.1 1073.0,567.2 C1073.4,570.2 1073.7,573.3 1074.1,576.3 C1074.5,579.3 1074.8,582.4 1075.2,585.4 C1075.6,588.5 1075.9,591.5 1076.3,594.6 C1076.7,597.6 1077.0,600.7 1077.4,603.8 C1077.8,606.8 1077.4,610.0 1078.5,612.9 C1079.7,616.0 1082.2,621.2 1084.4,621.7 C1086.2,622.1 1088.3,619.3 1090.2,618.0 C1092.2,616.8 1094.2,615.7 1096.1,614.4 C1098.1,613.0 1100.0,611.5 1101.9,610.0 C1103.9,608.5 1106.5,607.5 1107.8,605.6 C1109.2,603.6 1109.3,600.7 1110.0,598.3 C1110.7,595.9 1111.7,593.8 1112.2,591.0 C1112.8,587.6 1112.5,583.2 1112.6,579.3 C1112.8,575.4 1112.9,571.5 1113.1,567.6 C1113.2,563.7 1113.4,559.7 1113.5,555.8 C1113.7,551.9 1113.8,548.0 1114.0,544.1 C1114.1,540.2 1114.3,536.2 1114.4,532.4 C1114.5,528.7 1114.7,525.2 1114.8,521.6 C1115.0,518.0 1115.1,514.4 1115.3,510.8 C1115.4,507.2 1115.6,503.5 1115.7,499.9 C1115.9,496.3 1116.0,492.7 1116.2,489.1 C1116.3,485.5 1116.5,481.8 1116.6,478.3 C1116.7,475.0 1116.8,472.0 1116.9,468.9 C1117.0,465.7 1117.0,462.6 1117.1,459.4 C1117.2,456.3 1117.3,453.3 1117.4,450.0 C1117.5,446.4 1117.5,442.6 1117.6,438.9 C1117.6,435.2 1117.7,431.5 1117.8,427.8 C1117.8,424.1 1117.9,420.4 1117.9,416.7 C1118.0,413.0 1118.1,409.3 1118.1,405.6 C1118.2,401.9 1118.2,398.1 1118.3,394.4 C1118.3,390.7 1118.4,387.0 1118.5,383.3 C1118.5,379.6 1118.6,375.9 1118.6,372.2 C1118.7,368.5 1118.8,364.8 1118.8,361.1 C1118.9,357.4 1118.9,353.7 1119.0,350.0 C1119.1,346.3 1119.1,342.6 1119.2,338.9 C1119.3,335.2 1119.4,331.5 1119.4,327.8 C1119.5,324.1 1119.6,320.4 1119.7,316.7 C1119.7,313.0 1119.8,309.3 1119.9,305.6 C1120.0,301.9 1120.0,298.1 1120.1,294.4 C1120.2,290.7 1120.3,287.0 1120.3,283.3 C1120.4,279.6 1120.5,275.9 1120.6,272.2 C1120.6,268.5 1120.7,264.8 1120.8,261.1 C1120.9,257.4 1120.9,253.8 1121.0,250.0 C1121.1,246.1 1121.1,242.1 1121.1,238.2 C1121.2,234.3 1121.2,230.4 1121.3,226.4 C1121.3,222.5 1121.3,218.6 1121.4,214.6 C1121.4,210.7 1121.5,206.8 1121.5,202.9 C1121.6,198.9 1121.6,195.0 1121.6,191.1 C1121.7,187.1 1121.7,183.2 1121.8,179.3 C1121.8,175.4 1121.9,171.4 1121.9,167.5 C1121.9,163.7 1122.0,160.0 1122.0,156.2 C1122.0,152.5 1122.1,148.8 1122.1,145.0 C1122.1,141.3 1122.2,137.5 1122.2,133.8 C1122.2,130.0 1122.3,126.3 1122.3,122.5 C1122.3,118.8 1122.4,115.0 1122.4,111.2 C1122.4,107.5 1120.6,101.9 1122.5,100.0 C1124.4,98.1 1130.2,100.0 1134.0,100.0 C1137.8,100.0 1141.7,100.0 1145.5,100.0 C1149.3,100.0 1153.2,100.0 1157.0,100.0 C1160.8,100.0 1164.7,100.0 1168.5,100.0 C1172.3,100.0 1176.2,100.0 1180.0,100.0 C1183.8,100.0 1187.7,100.0 1191.5,100.0 C1195.3,100.0 1199.2,100.0 1203.0,100.0 C1206.8,100.0 1210.7,100.0 1214.5,100.0 C1218.3,100.0 1222.2,100.0 1226.0,100.0 C1229.8,100.0 1233.7,100.0 1237.5,100.0 C1241.3,100.0 1245.2,100.0 1249.0,100.0 C1252.8,100.0 1256.7,100.0 1260.5,100.0 C1264.3,100.0 1270.1,98.1 1272.0,100.0 C1273.9,101.9 1272.1,107.5 1272.1,111.2 C1272.1,115.0 1272.2,118.8 1272.2,122.5 C1272.2,126.3 1272.3,130.0 1272.3,133.8 C1272.3,137.5 1272.4,141.3 1272.4,145.0 C1272.4,148.8 1272.5,152.5 1272.5,156.2 C1272.5,160.0 1272.5,163.7 1272.6,167.5 C1272.7,171.4 1273.1,175.4 1273.4,179.4 C1273.6,183.4 1273.9,187.4 1274.1,191.3 C1274.4,195.3 1274.6,199.3 1274.9,203.2 C1275.2,207.2 1275.4,211.2 1275.7,215.2 C1275.9,219.1 1276.2,223.1 1276.4,227.1 C1276.7,231.1 1276.9,235.0 1277.2,239.0 C1277.5,243.0 1277.7,246.9 1278.0,250.9 C1278.3,254.9 1278.5,258.9 1278.8,262.8 C1279.1,266.8 1279.3,270.8 1279.6,274.8 C1279.9,278.7 1280.1,282.7 1280.4,286.7 C1280.7,290.6 1280.9,294.6 1281.2,298.6 C1281.5,302.6 1281.8,306.6 1282.0,310.5 C1282.2,314.3 1282.3,317.9 1282.5,321.6 C1282.6,325.3 1282.8,329.0 1283.0,332.7 C1283.1,336.4 1283.3,340.1 1283.4,343.8 C1283.6,347.5 1283.8,351.2 1283.9,354.9 C1284.1,358.6 1284.2,362.5 1284.4,366.0 C1284.5,369.1 1284.7,372.0 1284.8,374.9 C1285.0,377.9 1284.8,381.0 1285.3,383.9 C1285.8,386.9 1287.1,392.5 1288.0,392.6 C1288.7,392.6 1289.3,387.9 1290.2,387.8 C1291.0,387.7 1292.3,391.9 1293.1,391.7 C1294.2,391.4 1294.3,384.3 1295.1,381.4 C1295.7,379.2 1296.5,375.6 1297.0,375.6 C1297.6,375.6 1298.2,380.3 1298.5,382.9 C1298.9,385.8 1298.8,389.1 1298.9,392.2 C1299.0,395.3 1299.1,398.4 1299.2,401.4 C1299.4,404.5 1299.5,407.6 1299.6,410.7 C1299.8,413.8 1299.8,416.8 1300.0,420.0 C1300.2,423.5 1300.4,427.3 1300.6,431.0 C1300.8,434.7 1301.0,438.3 1301.2,442.0 C1301.4,445.7 1301.6,449.3 1301.8,453.0 C1302.0,456.7 1302.2,460.3 1302.4,464.0 C1302.6,467.7 1302.6,471.7 1303.0,475.0 C1303.3,477.6 1303.8,479.8 1304.2,482.1 C1304.5,484.5 1304.6,489.2 1305.3,489.3 C1305.9,489.4 1307.1,484.5 1307.7,484.6 C1308.6,484.8 1308.8,492.0 1309.3,495.6 C1309.8,499.3 1310.5,503.1 1310.9,506.7 C1311.2,510.1 1311.3,513.3 1311.5,516.6 C1311.7,519.9 1311.9,523.2 1312.1,526.5 C1312.3,529.8 1312.5,533.1 1312.7,536.4 C1312.9,539.7 1313.0,542.9 1313.3,546.3 C1313.7,550.0 1314.3,554.1 1314.9,557.9 C1315.4,561.8 1315.9,565.7 1316.4,569.6 C1317.0,573.4 1316.9,577.6 1318.0,581.2 C1319.1,584.5 1321.2,587.3 1322.8,590.3 C1324.3,593.3 1325.6,599.1 1327.5,599.4 C1329.1,599.7 1331.2,596.0 1333.0,594.2 C1334.9,592.5 1337.3,591.3 1338.6,589.1 C1340.0,586.8 1340.0,583.5 1340.7,580.7 C1341.4,577.9 1342.2,575.0 1342.9,572.2 C1343.6,569.4 1343.8,565.6 1345.0,563.8 C1345.8,562.6 1347.1,561.3 1348.1,561.4 C1349.2,561.5 1350.6,565.5 1351.3,565.3 C1352.4,565.0 1351.8,557.6 1352.1,553.7 C1352.4,549.8 1352.6,546.0 1352.9,542.1 C1353.2,538.2 1353.5,534.4 1353.7,530.5 C1353.9,526.6 1354.0,522.6 1354.1,518.6 C1354.2,514.7 1354.3,510.7 1354.5,506.7 C1354.6,502.8 1354.7,498.8 1354.8,494.9 C1355.0,490.9 1355.1,486.9 1355.2,483.0 C1355.4,479.0 1355.5,475.0 1355.6,471.1 C1355.7,467.1 1355.9,463.1 1356.0,459.2 C1356.1,455.4 1356.2,451.7 1356.2,447.9 C1356.3,444.1 1356.4,440.3 1356.5,436.6 C1356.5,432.8 1356.6,429.0 1356.7,425.3 C1356.8,421.5 1356.8,417.7 1356.9,413.9 C1357.0,410.2 1357.1,406.4 1357.1,402.6 C1357.2,398.9 1357.3,395.1 1357.4,391.3 C1357.4,387.5 1357.5,383.8 1357.6,380.0 C1357.7,376.1 1357.7,372.1 1357.7,368.2 C1357.7,364.3 1357.8,360.3 1357.8,356.4 C1357.9,352.5 1357.9,348.5 1357.9,344.6 C1358.0,340.6 1358.0,336.7 1358.0,332.8 C1358.1,328.8 1358.1,324.9 1358.2,321.0 C1358.2,317.0 1358.2,313.1 1358.3,309.2 C1358.3,305.2 1358.3,301.3 1358.4,297.4 C1358.4,293.4 1358.5,289.5 1358.5,285.6 C1358.5,281.6 1358.6,277.7 1358.6,273.8 C1358.6,269.8 1358.7,265.9 1358.7,261.9 C1358.7,258.0 1358.8,254.1 1358.8,250.1 C1358.9,246.2 1358.9,242.3 1358.9,238.3 C1359.0,234.4 1359.0,230.5 1359.0,226.5 C1359.1,222.6 1359.1,218.7 1359.2,214.7 C1359.2,210.8 1359.2,206.9 1359.3,202.9 C1359.3,199.0 1359.3,195.0 1359.4,191.1 C1359.4,187.2 1359.5,183.2 1359.5,179.3 C1359.5,175.4 1359.6,171.4 1359.6,167.5 C1359.6,163.7 1359.6,160.0 1359.7,156.2 C1359.7,152.5 1359.7,148.8 1359.7,145.0 C1359.8,141.2 1359.8,137.5 1359.8,133.8 C1359.8,130.0 1359.8,126.3 1359.9,122.5 C1359.9,118.7 1359.9,115.0 1359.9,111.2 C1360.0,107.5 1358.3,101.7 1360.0,100.0 C1361.3,98.7 1364.8,100.0 1367.2,100.0 C1369.7,100.0 1373.2,98.7 1374.5,100.0 C1376.2,101.7 1374.5,107.5 1374.5,111.2 C1374.5,115.0 1374.6,118.8 1374.6,122.5 C1374.6,126.3 1374.6,130.0 1374.6,133.8 C1374.6,137.5 1374.6,141.2 1374.6,145.0 C1374.6,148.7 1374.7,152.5 1374.7,156.2 C1374.7,160.0 1374.7,163.7 1374.7,167.5 C1374.7,171.4 1374.7,175.4 1374.8,179.3 C1374.8,183.2 1374.8,187.2 1374.8,191.1 C1374.8,195.0 1374.9,199.0 1374.9,202.9 C1374.9,206.9 1374.9,210.8 1374.9,214.7 C1375.0,218.7 1375.0,222.6 1375.0,226.5 C1375.0,230.5 1375.0,234.4 1375.1,238.3 C1375.1,242.3 1375.1,246.2 1375.1,250.1 C1375.1,254.1 1375.2,258.0 1375.2,261.9 C1375.2,265.9 1375.2,269.8 1375.2,273.8 C1375.3,277.7 1375.3,281.6 1375.3,285.6 C1375.3,289.5 1375.4,293.4 1375.4,297.4 C1375.4,301.3 1375.4,305.2 1375.4,309.2 C1375.5,313.1 1375.5,317.0 1375.5,321.0 C1375.5,324.9 1375.5,328.8 1375.6,332.8 C1375.6,336.7 1375.6,340.6 1375.6,344.6 C1375.6,348.5 1375.7,352.5 1375.7,356.4 C1375.7,360.3 1375.7,364.3 1375.7,368.2 C1375.8,372.1 1375.8,376.1 1375.8,380.0 C1375.8,383.8 1376.0,387.5 1376.0,391.3 C1376.1,395.1 1376.2,398.9 1376.3,402.6 C1376.3,406.4 1376.4,410.2 1376.5,413.9 C1376.6,417.7 1376.6,421.5 1376.7,425.3 C1376.8,429.0 1376.9,432.8 1376.9,436.6 C1377.0,440.3 1377.1,444.1 1377.2,447.9 C1377.2,451.7 1377.3,455.4 1377.4,459.2 C1377.5,463.0 1377.6,466.7 1377.7,470.5 C1377.9,474.3 1378.0,478.1 1378.1,481.8 C1378.2,485.6 1378.3,489.4 1378.4,493.1 C1378.5,496.9 1378.7,500.7 1378.8,504.5 C1378.9,508.2 1379.0,512.0 1379.1,515.8 C1379.2,519.5 1379.3,523.3 1379.5,527.1 C1379.6,530.9 1379.5,534.7 1379.8,538.4 C1380.1,541.9 1380.7,545.1 1381.1,548.4 C1381.6,551.8 1382.0,555.1 1382.5,558.5 C1382.9,561.8 1382.4,567.7 1383.8,568.5 C1384.7,569.0 1386.7,568.1 1387.7,566.9 C1389.3,565.1 1389.3,560.0 1390.1,556.6 C1390.9,553.2 1391.7,549.7 1392.5,546.3 C1393.2,542.9 1394.0,539.4 1394.8,536.0 C1395.6,532.6 1396.5,525.7 1397.2,525.7 C1397.8,525.7 1398.3,532.1 1398.8,535.2 C1399.3,538.4 1399.9,541.6 1400.4,544.8 C1400.9,547.9 1401.4,551.1 1402.0,554.3 C1402.6,557.6 1403.4,561.0 1404.1,564.3 C1404.8,567.7 1405.5,571.0 1406.2,574.4 C1406.9,577.7 1406.7,581.7 1408.3,584.4 C1409.8,586.9 1412.5,589.4 1415.0,590.0 C1417.3,590.6 1420.2,589.6 1422.6,588.3 C1425.3,586.9 1428.4,584.1 1430.0,581.3 C1431.7,578.4 1431.6,574.4 1432.3,571.0 C1433.1,567.6 1433.9,564.1 1434.7,560.7 C1435.4,557.3 1436.4,554.0 1437.0,550.4 C1437.7,546.6 1437.9,542.5 1438.4,538.5 C1438.9,534.5 1439.3,530.6 1439.8,526.6 C1440.3,522.6 1440.7,518.7 1441.2,514.7 C1441.7,510.7 1442.0,506.5 1442.6,502.8 C1443.1,499.6 1443.8,496.7 1444.4,493.7 C1445.1,490.7 1445.7,484.6 1446.3,484.6 C1447.0,484.6 1447.7,491.8 1448.3,495.3 C1449.0,498.9 1449.7,502.5 1450.4,506.1 C1451.0,509.6 1451.2,513.7 1452.4,516.8 C1453.4,519.5 1455.2,521.5 1456.6,523.8 C1458.0,526.1 1459.6,528.5 1460.8,530.8 C1461.9,532.9 1462.7,535.0 1463.6,537.1 C1464.5,539.2 1465.8,543.5 1466.4,543.4 C1467.1,543.3 1466.9,536.4 1467.1,532.9 C1467.4,529.4 1467.6,525.9 1467.8,522.4 C1468.1,518.9 1468.3,515.4 1468.6,511.9 C1468.8,508.3 1469.0,504.8 1469.3,501.3 C1469.5,497.8 1469.7,494.3 1470.0,490.8 C1470.2,487.3 1470.5,483.8 1470.7,480.3 C1470.9,476.8 1470.9,473.3 1471.0,469.8 C1471.2,466.3 1471.3,462.8 1471.4,459.3 C1471.5,455.8 1471.6,452.3 1471.8,448.8 C1471.9,445.3 1472.0,441.8 1472.1,438.2 C1472.2,434.7 1472.3,431.2 1472.5,427.7 C1472.6,424.2 1472.7,420.7 1472.8,417.2 C1472.9,413.7 1473.0,410.2 1473.2,406.7 C1473.3,403.2 1473.4,399.8 1473.5,396.2 C1473.6,392.3 1473.7,388.2 1473.8,384.2 C1473.8,380.2 1473.9,376.2 1474.0,372.3 C1474.1,368.3 1474.2,364.3 1474.3,360.3 C1474.3,356.3 1474.4,352.3 1474.5,348.3 C1474.6,344.3 1474.7,340.3 1474.8,336.3 C1474.9,332.3 1474.9,328.4 1475.0,324.4 C1475.1,320.4 1475.2,316.4 1475.3,312.4 C1475.4,308.4 1475.5,304.4 1475.5,300.4 C1475.6,296.4 1475.7,292.4 1475.8,288.4 C1475.9,284.5 1476.0,280.5 1476.0,276.5 C1476.1,272.5 1476.1,268.4 1476.3,264.5 C1476.5,260.8 1476.9,257.2 1477.2,253.6 C1477.5,249.9 1477.8,246.3 1478.1,242.6 C1478.4,239.0 1478.7,231.7 1479.0,231.7 C1479.3,231.7 1479.6,237.4 1479.8,240.2 C1480.1,243.1 1480.4,245.9 1480.7,248.8 C1480.9,251.6 1481.3,254.2 1481.5,257.3 C1481.7,260.9 1481.7,265.0 1481.8,268.9 C1481.9,272.8 1482.0,276.6 1482.1,280.5 C1482.2,284.3 1482.3,288.2 1482.4,292.1 C1482.5,295.9 1482.6,299.8 1482.7,303.6 C1482.8,307.5 1482.9,311.4 1483.0,315.2 C1483.1,319.1 1483.2,323.0 1483.3,326.8 C1483.4,330.7 1483.5,334.6 1483.6,338.4 C1483.7,342.3 1483.8,346.1 1483.9,350.0 C1484.0,353.9 1484.0,357.7 1484.1,361.6 C1484.2,365.4 1484.2,369.2 1484.3,373.1 C1484.4,377.0 1484.4,380.8 1484.5,384.6 C1484.6,388.5 1484.6,392.4 1484.7,396.2 C1484.8,400.0 1485.0,403.7 1485.1,407.4 C1485.3,411.2 1485.4,414.9 1485.5,418.6 C1485.7,422.4 1485.8,426.1 1486.0,429.9 C1486.1,433.6 1486.2,437.3 1486.4,441.1 C1486.5,444.8 1486.7,448.6 1486.8,452.3 C1486.9,456.0 1487.1,459.8 1487.2,463.5 C1487.4,467.3 1487.5,471.0 1487.6,474.7 C1487.8,478.5 1487.9,482.2 1488.1,486.0 C1488.2,489.7 1488.3,493.4 1488.5,497.2 C1488.6,500.9 1488.6,504.8 1488.9,508.4 C1489.1,511.9 1489.6,515.2 1490.0,518.5 C1490.3,521.9 1490.7,525.3 1491.0,528.7 C1491.4,532.1 1491.7,535.5 1492.0,538.9 C1492.4,542.2 1492.7,549.0 1493.1,549.0 C1493.5,549.0 1494.0,542.2 1494.5,538.9 C1495.0,535.5 1495.4,532.1 1495.9,528.7 C1496.4,525.3 1496.8,521.9 1497.3,518.5 C1497.8,515.2 1498.3,511.9 1498.7,508.4 C1499.1,504.6 1499.3,500.5 1499.6,496.5 C1499.9,492.5 1500.3,488.5 1500.6,484.6 C1500.9,480.6 1501.2,476.6 1501.5,472.6 C1501.8,468.7 1502.1,464.7 1502.4,460.7 C1502.7,456.8 1503.1,452.8 1503.4,448.8 C1503.7,444.8 1504.0,436.9 1504.3,436.9 C1504.6,436.9 1505.0,444.1 1505.3,447.8 C1505.7,451.4 1506.1,455.0 1506.4,458.6 C1506.8,462.2 1507.1,465.8 1507.5,469.4 C1507.8,473.1 1508.3,476.6 1508.5,480.3 C1508.7,484.0 1508.8,487.8 1508.9,491.5 C1509.1,495.3 1509.2,499.0 1509.3,502.7 C1509.5,506.5 1509.6,510.2 1509.8,514.0 C1509.9,517.7 1510.0,521.4 1510.2,525.2 C1510.3,528.9 1510.5,532.7 1510.6,536.4 C1510.7,540.1 1510.9,543.9 1511.0,547.6 C1511.2,551.4 1511.3,555.1 1511.4,558.8 C1511.6,562.6 1511.7,566.3 1511.9,570.1 C1512.0,573.8 1512.1,577.5 1512.3,581.3 C1512.4,585.0 1512.4,588.8 1512.7,592.5 C1512.9,596.1 1513.4,599.5 1513.8,603.0 C1514.1,606.5 1514.5,610.0 1514.8,613.5 C1515.2,617.0 1515.5,620.5 1515.9,624.0 C1516.2,627.5 1515.9,631.8 1516.9,634.5 C1517.6,636.4 1518.6,637.5 1520.0,638.9 C1521.9,640.8 1525.5,643.5 1528.1,644.4 C1530.2,645.1 1532.2,644.6 1534.3,644.7 C1536.4,644.8 1538.5,644.3 1540.5,645.0 C1542.6,645.7 1544.3,648.3 1546.6,649.1 C1549.0,649.9 1552.0,650.3 1554.8,649.7 C1558.1,649.0 1562.2,646.2 1565.1,644.0 C1567.6,642.2 1569.3,640.2 1571.2,637.9 C1573.2,635.4 1575.2,629.6 1576.9,629.7 C1578.6,629.8 1580.0,635.0 1581.5,637.9 C1583.2,641.1 1584.3,645.6 1586.6,648.1 C1588.6,650.3 1591.1,651.8 1593.8,652.7 C1596.6,653.6 1599.9,653.0 1603.0,653.2 C1606.1,653.4 1609.1,654.0 1612.2,653.7 C1615.6,653.4 1619.7,652.0 1622.5,651.2 C1624.5,650.7 1625.8,649.7 1627.6,649.7 C1629.6,649.7 1631.7,650.9 1633.8,651.5 C1635.9,652.0 1637.8,653.1 1640.0,653.2 C1642.5,653.3 1645.2,652.0 1648.1,651.7 C1651.3,651.3 1654.9,651.4 1658.3,651.2 C1661.8,651.0 1666.1,651.7 1668.6,650.7 C1670.4,650.0 1671.7,648.8 1672.7,647.1 C1674.1,644.7 1674.1,640.3 1674.8,636.9 C1675.4,633.4 1676.3,629.9 1676.8,626.6 C1677.3,623.5 1677.5,620.7 1677.9,617.7 C1678.2,614.8 1678.6,611.8 1678.9,608.9 C1679.3,605.9 1679.7,603.0 1680.0,600.0 C1680.3,596.8 1680.6,593.5 1680.9,590.2 C1681.2,587.0 1681.5,583.8 1681.8,580.5 C1682.2,577.2 1682.5,574.0 1682.8,570.8 C1683.1,567.5 1683.4,564.4 1683.7,561.0 C1684.0,557.3 1684.2,553.3 1684.4,549.4 C1684.7,545.6 1684.9,541.7 1685.2,537.9 C1685.4,534.0 1685.6,530.1 1685.9,526.3 C1686.1,522.4 1686.4,518.6 1686.6,514.7 C1686.8,510.8 1687.1,507.0 1687.4,503.1 C1687.6,499.3 1687.9,495.4 1688.1,491.6 C1688.4,487.7 1688.7,483.9 1688.9,480.0 C1689.1,476.1 1689.0,472.1 1689.1,468.1 C1689.1,464.1 1689.2,460.2 1689.3,456.2 C1689.3,452.3 1689.4,448.3 1689.4,444.3 C1689.5,440.4 1689.6,436.4 1689.6,432.4 C1689.7,428.5 1689.7,424.5 1689.8,420.6 C1689.8,416.6 1689.9,412.6 1690.0,408.7 C1690.0,404.7 1690.1,400.7 1690.1,396.8 C1690.2,392.8 1690.3,388.9 1690.3,384.9 C1690.4,380.9 1690.5,376.9 1690.5,373.0 C1690.5,369.2 1690.6,365.4 1690.6,361.6 C1690.6,357.8 1690.6,354.0 1690.7,350.2 C1690.7,346.4 1690.7,342.6 1690.8,338.8 C1690.8,334.9 1690.8,331.1 1690.8,327.3 C1690.9,323.5 1690.9,319.7 1690.9,315.9 C1690.9,312.1 1691.0,308.3 1691.0,304.5 C1691.0,300.7 1691.1,296.9 1691.1,293.1 C1691.1,289.3 1691.1,285.5 1691.2,281.7 C1691.2,277.9 1691.2,274.1 1691.2,270.2 C1691.3,266.4 1691.3,262.6 1691.3,258.8 C1691.4,255.0 1691.4,251.2 1691.4,247.4 C1691.4,243.6 1691.5,239.8 1691.5,236.0 C1691.5,232.2 1691.6,228.4 1691.6,224.6 C1691.6,220.8 1691.6,217.0 1691.7,213.2 C1691.7,209.4 1691.7,205.6 1691.8,201.8 C1691.8,197.9 1691.8,194.1 1691.8,190.3 C1691.9,186.5 1691.9,182.7 1691.9,178.9 C1691.9,175.1 1692.0,171.3 1692.0,167.5 C1692.0,163.7 1692.1,160.0 1692.1,156.2 C1692.1,152.5 1692.1,148.8 1692.2,145.0 C1692.2,141.2 1692.2,137.5 1692.2,133.8 C1692.3,130.0 1692.3,126.2 1692.3,122.5 C1692.4,118.8 1692.4,115.0 1692.4,111.2 C1692.4,107.5 1692.5,100.0 1692.5,100.0" stroke="#ff3a2a" stroke-width="1.3"/>
</g>
<g stroke="#111" stroke-width="5.0" stroke-linecap="round" fill="none">
<line x1="282.5" y1="166.9" x2="282.5" y2="709.9"/>
<line x1="267.3" y1="694.6" x2="1706.9" y2="694.6"/>
<line x1="267.5" y1="694.6" x2="282.5" y2="694.6"/>
<line x1="273.8" y1="677.0" x2="282.5" y2="677.0"/>
<line x1="273.8" y1="659.4" x2="282.5" y2="659.4"/>
<line x1="273.8" y1="641.8" x2="282.5" y2="641.8"/>
<line x1="273.8" y1="624.2" x2="282.5" y2="624.2"/>
<line x1="267.5" y1="606.6" x2="282.5" y2="606.6"/>
<line x1="273.8" y1="589.1" x2="282.5" y2="589.1"/>
<line x1="273.8" y1="571.5" x2="282.5" y2="571.5"/>
<line x1="273.8" y1="553.9" x2="282.5" y2="553.9"/>
<line x1="273.8" y1="536.3" x2="282.5" y2="536.3"/>
<line x1="267.5" y1="518.7" x2="282.5" y2="518.7"/>
<line x1="273.8" y1="501.1" x2="282.5" y2="501.1"/>
<line x1="273.8" y1="483.5" x2="282.5" y2="483.5"/>
<line x1="273.8" y1="465.9" x2="282.5" y2="465.9"/>
<line x1="273.8" y1="448.3" x2="282.5" y2="448.3"/>
<line x1="267.5" y1="430.8" x2="282.5" y2="430.8"/>
<line x1="273.8" y1="413.2" x2="282.5" y2="413.2"/>
<line x1="273.8" y1="395.6" x2="282.5" y2="395.6"/>
<line x1="273.8" y1="378.0" x2="282.5" y2="378.0"/>
<line x1="273.8" y1="360.4" x2="282.5" y2="360.4"/>
<line x1="267.5" y1="342.8" x2="282.5" y2="342.8"/>
<line x1="273.8" y1="325.2" x2="282.5" y2="325.2"/>
<line x1="273.8" y1="307.6" x2="282.5" y2="307.6"/>
<line x1="273.8" y1="290.0" x2="282.5" y2="290.0"/>
<line x1="273.8" y1="272.4" x2="282.5" y2="272.4"/>
<line x1="267.5" y1="254.9" x2="282.5" y2="254.9"/>
<line x1="273.8" y1="237.3" x2="282.5" y2="237.3"/>
<line x1="273.8" y1="219.7" x2="282.5" y2="219.7"/>
<line x1="273.8" y1="202.1" x2="282.5" y2="202.1"/>
<line x1="273.8" y1="184.5" x2="282.5" y2="184.5"/>
<line x1="267.5" y1="166.9" x2="282.5" y2="166.9"/>
<line x1="282.5" y1="694.6" x2="282.5" y2="709.9"/>
<line x1="318.1" y1="694.6" x2="318.1" y2="703.8"/>
<line x1="353.7" y1="694.6" x2="353.7" y2="703.8"/>
<line x1="389.4" y1="694.6" x2="389.4" y2="703.8"/>
<line x1="425.0" y1="694.6" x2="425.0" y2="703.8"/>
<line x1="460.6" y1="694.6" x2="460.6" y2="709.9"/>
<line x1="496.2" y1="694.6" x2="496.2" y2="703.8"/>
<line x1="531.8" y1="694.6" x2="531.8" y2="703.8"/>
<line x1="567.4" y1="694.6" x2="567.4" y2="703.8"/>
<line x1="603.1" y1="694.6" x2="603.1" y2="703.8"/>
<line x1="638.7" y1="694.6" x2="638.7" y2="709.9"/>
<line x1="674.3" y1="694.6" x2="674.3" y2="703.8"/>
<line x1="709.9" y1="694.6" x2="709.9" y2="703.8"/>
<line x1="745.5" y1="694.6" x2="745.5" y2="703.8"/>
<line x1="781.1" y1="694.6" x2="781.1" y2="703.8"/>
<line x1="816.8" y1="694.6" x2="816.8" y2="709.9"/>
<line x1="852.4" y1="694.6" x2="852.4" y2="703.8"/>
<line x1="888.0" y1="694.6" x2="888.0" y2="703.8"/>
<line x1="923.6" y1="694.6" x2="923.6" y2="703.8"/>
<line x1="959.2" y1="694.6" x2="959.2" y2="703.8"/>
<line x1="994.9" y1="694.6" x2="994.9" y2="709.9"/>
<line x1="1030.5" y1="694.6" x2="1030.5" y2="703.8"/>
<line x1="1066.1" y1="694.6" x2="1066.1" y2="703.8"/>
<line x1="1101.7" y1="694.6" x2="1101.7" y2="703.8"/>
<line x1="1137.3" y1="694.6" x2="1137.3" y2="703.8"/>
<line x1="1172.9" y1="694.6" x2="1172.9" y2="709.9"/>
<line x1="1208.6" y1="694.6" x2="1208.6" y2="703.8"/>
<line x1="1244.2" y1="694.6" x2="1244.2" y2="703.8"/>
<line x1="1279.8" y1="694.6" x2="1279.8" y2="703.8"/>
<line x1="1315.4" y1="694.6" x2="1315.4" y2="703.8"/>
<line x1="1351.0" y1="694.6" x2="1351.0" y2="709.9"/>
<line x1="1386.6" y1="694.6" x2="1386.6" y2="703.8"/>
<line x1="1422.3" y1="694.6" x2="1422.3" y2="703.8"/>
<line x1="1457.9" y1="694.6" x2="1457.9" y2="703.8"/>
<line x1="1493.5" y1="694.6" x2="1493.5" y2="703.8"/>
<line x1="1529.1" y1="694.6" x2="1529.1" y2="709.9"/>
<line x1="1564.7" y1="694.6" x2="1564.7" y2="703.8"/>
<line x1="1600.3" y1="694.6" x2="1600.3" y2="703.8"/>
<line x1="1636.0" y1="694.6" x2="1636.0" y2="703.8"/>
<line x1="1671.6" y1="694.6" x2="1671.6" y2="703.8"/>
<line x1="1707.2" y1="694.6" x2="1707.2" y2="709.9"/>
</g>
<text x="242" y="709.1" font-size="50" text-anchor="end">0</text>
<text x="242" y="622.6" font-size="50" text-anchor="end">10</text>
<text x="242" y="534.4" font-size="50" text-anchor="end">20</text>
<text x="242" y="445.8" font-size="50" text-anchor="end">30</text>
<text x="242" y="358.7" font-size="50" text-anchor="end">40</text>
<text x="242" y="270.1" font-size="50" text-anchor="end">50</text>
<text x="242" y="183.1" font-size="50" text-anchor="end">60</text>
<text x="282.5" y="780" font-size="50" text-anchor="middle">0</text>
<text x="460.6" y="780" font-size="50" text-anchor="middle">4</text>
<text x="638.7" y="780" font-size="50" text-anchor="middle">8</text>
<text x="816.8" y="780" font-size="50" text-anchor="middle">12</text>
<text x="994.9" y="780" font-size="50" text-anchor="middle">16</text>
<text x="1172.9" y="780" font-size="50" text-anchor="middle">20</text>
<text x="1351.0" y="780" font-size="50" text-anchor="middle">24</text>
<text x="1529.1" y="780" font-size="50" text-anchor="middle">28</text>
<text x="1707.2" y="780" font-size="50" text-anchor="middle">32</text>
<g stroke="#111" stroke-width="5.6" stroke-linecap="round" stroke-linejoin="round" fill="none"><line x1="729" y1="195.5" x2="662.5" y2="253.4"/><polyline points="680.9,223.6 662.3,253.6 693.3,238.9"/></g>
<path d="M662.3,253.6 L676.5,235.5 L685,240.5 Z" fill="#111"/>
<g stroke="#111" stroke-width="5.6" stroke-linecap="round" stroke-linejoin="round" fill="none"><line x1="1635" y1="547.5" x2="1635" y2="628"/><polyline points="1624.8,592.3 1634.9,628.6 1644.2,592.3"/></g>
<path d="M1634.9,628.6 L1627.6,602 L1642,602 Z" fill="#111"/>
<rect x="354.7" y="972.3" width="114.9" height="27.5" fill="#111" stroke="#111" stroke-width="5.6" stroke-linejoin="round"/>
<rect x="354.7" y="1028.1" width="115.9" height="30.5" fill="#fefefe" stroke="#111" stroke-width="5.6" stroke-linejoin="round"/>
<rect x="399.2" y="1374.0" width="102.9" height="179.4" fill="#111"/>
<g stroke="#111" stroke-width="5.6" stroke-linecap="round" stroke-linejoin="round" fill="none"><polyline points="402.0,1558.0 402.0,1376.8 499.3,1376.8 499.3,1558.0"/><line x1="451.4" y1="1375" x2="451.4" y2="1348.7"/><line x1="438.0" y1="1348.7" x2="465.7" y2="1348.7"/><polyline points="566.6,1558.0 566.6,1185.5 665.2,1185.5 665.2,1558.0"/><line x1="615.3" y1="1185" x2="615.3" y2="1174"/><line x1="601.2" y1="1174" x2="629.9" y2="1174"/><line x1="352.5" y1="1118.3" x2="352.5" y2="1558.0"/><line x1="338.9" y1="1558.0" x2="714.2" y2="1558.0"/>
<line x1="338.4" y1="1118.3" x2="352.5" y2="1118.3"/>
<line x1="338.4" y1="1263.9" x2="352.5" y2="1263.9"/>
<line x1="338.4" y1="1410.9" x2="352.5" y2="1410.9"/>
<line x1="338.4" y1="1558.0" x2="352.5" y2="1558.0"/>
</g>
<rect x="1281.0" y="973.3" width="115.1" height="27.8" fill="#111" stroke="#111" stroke-width="5.6" stroke-linejoin="round"/>
<rect x="1281.0" y="1030.7" width="115.8" height="29.0" fill="#fefefe" stroke="#111" stroke-width="5.6" stroke-linejoin="round"/>
<rect x="1323.2" y="1181.4" width="105.2" height="376.6" fill="#111"/>
<g stroke="#111" stroke-width="5.6" stroke-linecap="round" stroke-linejoin="round" fill="none"><polyline points="1326.0,1558.0 1326.0,1184.2 1425.6,1184.2 1425.6,1558.0"/><line x1="1376" y1="1182" x2="1376" y2="1159.6"/><line x1="1362.6" y1="1159.6" x2="1389.7" y2="1159.6"/><polyline points="1491.4,1558.0 1491.4,1330.6 1589.9,1330.6 1589.9,1558.0"/><line x1="1541" y1="1330" x2="1541" y2="1297.5"/><line x1="1527.0" y1="1297.5" x2="1554.7" y2="1297.5"/><line x1="1277.3" y1="1119.5" x2="1277.3" y2="1558.0"/><line x1="1263.5" y1="1558.0" x2="1640.1" y2="1558.0"/>
<line x1="1262.6" y1="1558.0" x2="1277.3" y2="1558.0"/>
<line x1="1262.6" y1="1411.8" x2="1277.3" y2="1411.8"/>
<line x1="1262.6" y1="1264.8" x2="1277.3" y2="1264.8"/>
<line x1="1262.6" y1="1119.5" x2="1277.3" y2="1119.5"/>
</g>
<text transform="matrix(0.9878,0.0000,0.0000,1.0112,35.7305,95.1000)" font-size="104">A</text>
<text transform="matrix(0.9988,0.0000,0.0000,1.0041,434.2000,99.6980)" font-size="52">WT ACM</text>
<text transform="matrix(0.9946,0.0000,0.0000,1.0041,435.8191,158.0980)" font-size="52">KO ACM</text>
<text transform="matrix(1.0007,0.0000,0.0000,0.9836,801.6476,845.3180)" font-size="49">Elution time (min)</text>
<text transform="matrix(0.0000,-0.9991,0.9972,0.0000,67.3014,578.2489)" font-size="49">Absorbance</text>
<text transform="matrix(0.0000,-0.9976,1.0120,0.0000,128.8268,673.9965)" font-size="49">arbitrary units (mAU)</text>
<text transform="matrix(1.0153,0.0000,0.0000,1.0133,738.4695,218.4933)" font-size="51">Glutamate</text>
<text transform="matrix(0.9983,0.0000,0.0000,1.0234,1528.8034,531.5883)" font-size="51">GABA</text>
<text transform="matrix(0.9890,0.0000,0.0000,1.0448,38.2772,982.8000)" font-size="104">B</text>
<text transform="matrix(0.9969,0.0000,0.0000,1.0014,500.0000,1003.1993)" font-size="52">WT ACM</text>
<text transform="matrix(0.9955,0.0000,0.0000,1.0014,498.7156,1060.4993)" font-size="52">KO ACM</text>
<text transform="matrix(1.0250,0.0000,0.0000,1.0250,283.3219,1134.4156)" font-size="51">6</text>
<text transform="matrix(1.0250,0.0000,0.0000,1.0250,282.7656,1281.0875)" font-size="51">4</text>
<text transform="matrix(1.0250,0.0000,0.0000,1.0250,283.2000,1427.3219)" font-size="51">2</text>
<text transform="matrix(1.0250,0.0000,0.0000,1.0250,282.8719,1574.3656)" font-size="51">0</text>
<text transform="matrix(0.9433,0.0000,0.0000,0.9414,588.4642,1170.5991)" font-size="78">*</text>
<text transform="matrix(0.9733,0.0000,0.0000,0.9414,620.6567,1170.5991)" font-size="78">*</text>
<text transform="matrix(1.0020,0.0000,0.0000,0.9725,424.2960,1620.5137)" font-size="52">Glutamate</text>
<text transform="matrix(0.0000,-1.0156,0.9973,0.0000,170.1013,1512.7311)" font-size="51">Concentration</text>
<text transform="matrix(0.0000,-1.0017,1.0147,0.0000,232.3453,1512.7034)" font-size="51">of ACM (</text>
<text transform="matrix(0.0000,-0.9778,0.8929,0.0000,235.2013,1301.4556)" font-size="51"><tspan font-family="'DejaVu Sans', sans-serif" font-weight="normal">μ</tspan></text>
<text transform="matrix(0.0000,-1.0299,1.0147,0.0000,232.3453,1271.9047)" font-size="51">M)</text>
<text transform="matrix(0.9515,0.0000,0.0000,1.0319,934.1562,981.8681)" font-size="104">C</text>
<text transform="matrix(0.9950,0.0000,0.0000,1.0041,1427.3000,1004.5980)" font-size="52">WT ACM</text>
<text transform="matrix(0.9975,0.0000,0.0000,0.9905,1426.1087,1061.5048)" font-size="52">KO ACM</text>
<text transform="matrix(0.9900,0.0000,0.0000,0.9900,1164.7150,1134.7775)" font-size="51">.15</text>
<text transform="matrix(0.9900,0.0000,0.0000,0.9900,1164.6862,1281.9488)" font-size="51">.10</text>
<text transform="matrix(0.9900,0.0000,0.0000,0.9900,1164.0650,1428.4488)" font-size="51">.05</text>
<text transform="matrix(0.9900,0.0000,0.0000,0.9900,1136.2713,1575.5988)" font-size="51">0.00</text>
<text transform="matrix(0.9333,0.0000,0.0000,0.9103,1526.1667,1295.7310)" font-size="78">*</text>
<text transform="matrix(0.9770,0.0000,0.0000,0.9741,1379.6461,1621.5129)" font-size="52">GABA</text>
<text transform="matrix(0.0000,-1.0138,0.9947,0.0000,1065.0027,1515.3276)" font-size="51">Concentration</text>
<text transform="matrix(0.0000,-1.0017,1.0147,0.0000,1129.4453,1516.0034)" font-size="51">of ACM (</text>
<text transform="matrix(0.0000,-0.9778,0.8929,0.0000,1132.3013,1304.7556)" font-size="51"><tspan font-family="'DejaVu Sans', sans-serif" font-weight="normal">μ</tspan></text>
<text transform="matrix(0.0000,-1.0299,1.0147,0.0000,1129.4453,1275.2047)" font-size="51">M)</text>
</svg>
</body></html>
